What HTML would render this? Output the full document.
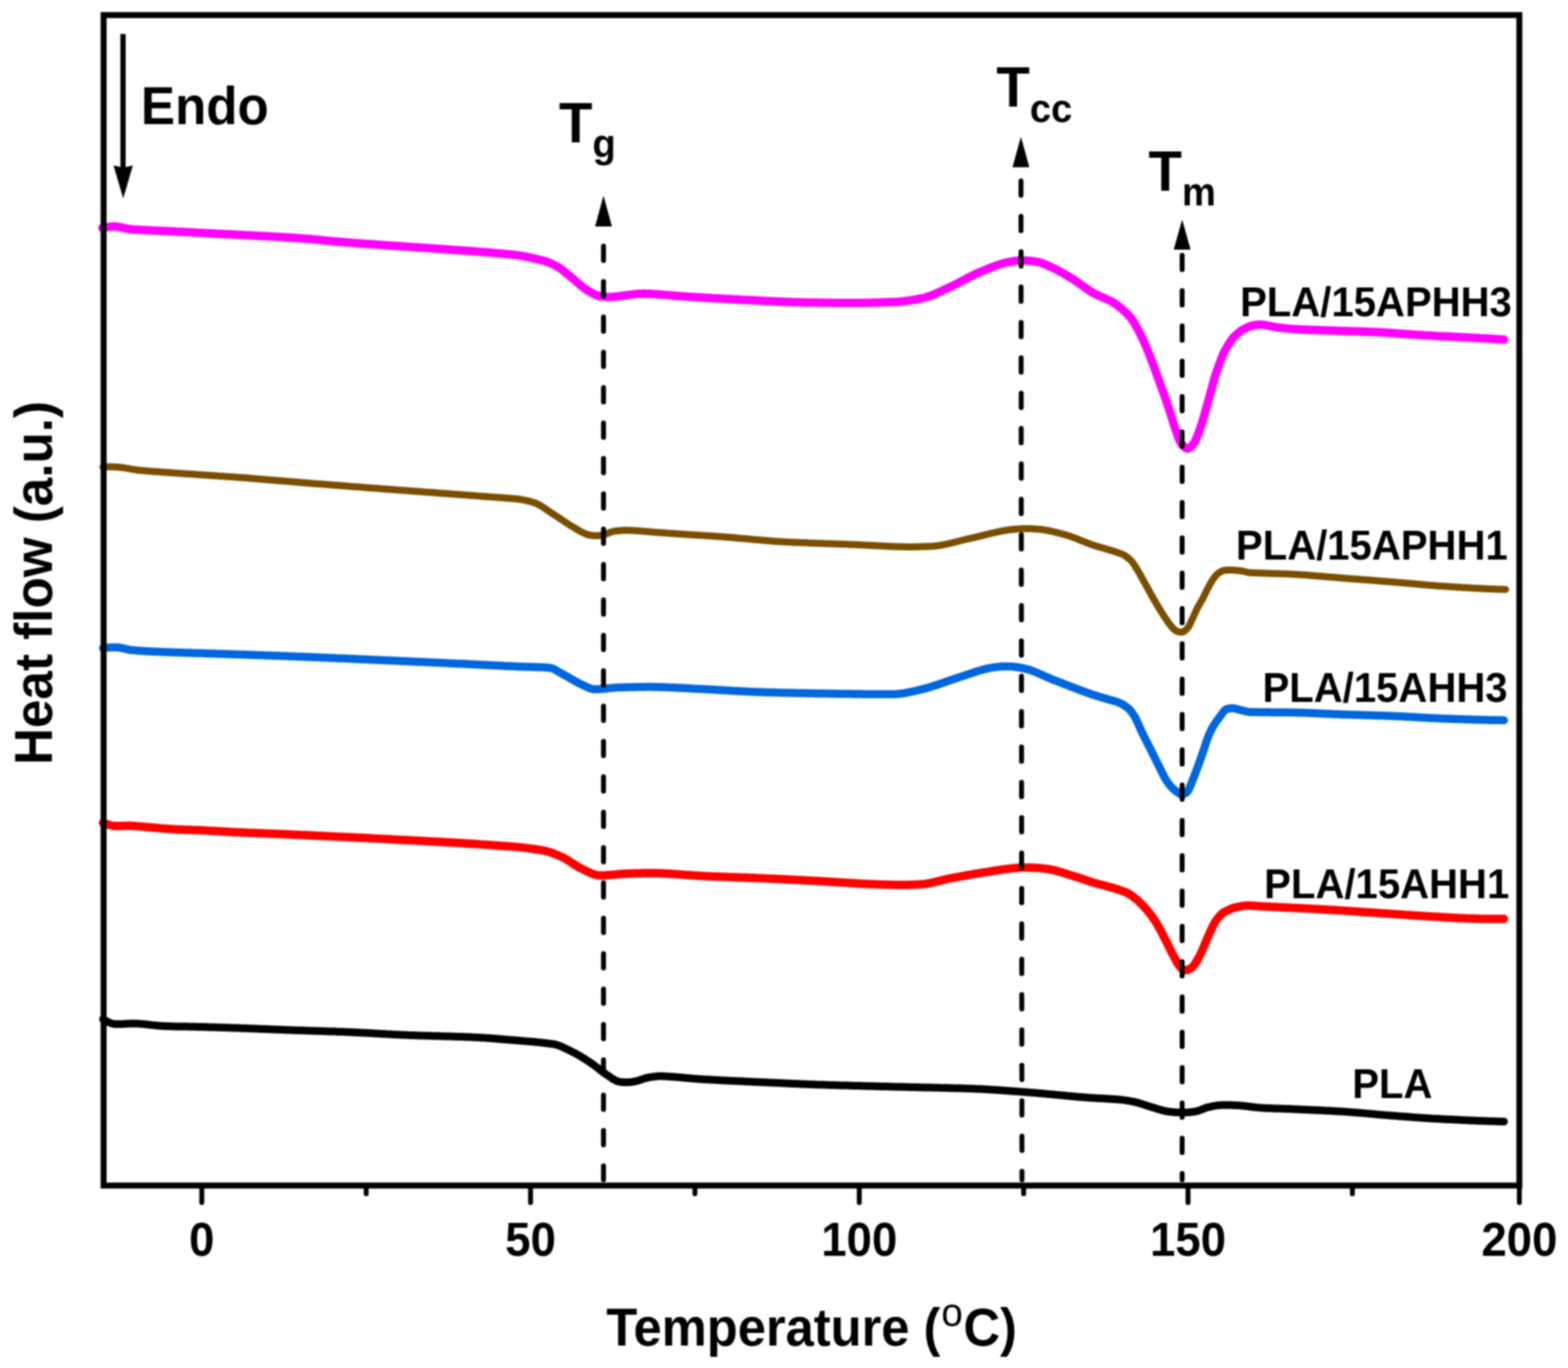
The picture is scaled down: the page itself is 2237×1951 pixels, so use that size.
<!DOCTYPE html>
<html><head><meta charset="utf-8"><title>DSC thermograms</title>
<style>html,body{margin:0;padding:0;background:#fff;}body{width:2237px;height:1951px;overflow:hidden;}svg{display:block;filter:blur(1.1px);}</style>
</head><body>
<svg width="2237" height="1951" viewBox="0 0 2237 1951">
<path d="M146.0,325.0L148.0,324.6L150.0,324.3L152.0,324.0L154.0,323.6L156.0,323.4L158.0,323.2L160.0,323.0L162.0,323.0L164.0,323.0L166.0,323.2L168.0,323.4L170.0,323.8L172.0,324.1L174.0,324.5L176.0,324.9L178.0,325.4L180.0,325.8L182.0,326.2L184.0,326.5L186.0,326.8L188.0,327.1L190.0,327.2L192.0,327.4L194.0,327.5L196.0,327.6L198.0,327.7L200.0,327.8L202.0,327.9L204.0,328.0L206.0,328.1L208.0,328.2L210.0,328.3L212.0,328.4L214.0,328.5L216.0,328.6L218.0,328.7L220.0,328.8L222.0,328.9L224.0,329.0L226.0,329.1L228.0,329.2L230.0,329.3L232.0,329.3L234.0,329.4L236.0,329.5L238.0,329.6L240.0,329.7L242.0,329.8L244.0,329.9L246.0,330.0L248.0,330.1L250.0,330.2L252.0,330.3L254.0,330.4L256.0,330.5L258.0,330.6L260.0,330.7L262.0,330.8L264.0,330.9L266.0,331.0L268.0,331.1L270.0,331.2L272.0,331.3L274.0,331.4L276.0,331.5L278.0,331.7L280.0,331.8L282.0,331.9L284.0,332.0L286.0,332.1L288.0,332.2L290.0,332.3L292.0,332.4L294.0,332.5L296.0,332.6L298.0,332.7L300.0,332.8L302.0,332.9L304.0,333.0L306.0,333.1L308.0,333.2L310.0,333.3L312.0,333.4L314.0,333.5L316.0,333.6L318.0,333.7L320.0,333.8L322.0,333.9L324.0,334.0L326.0,334.1L328.0,334.2L330.0,334.3L332.0,334.4L334.0,334.5L336.0,334.6L338.0,334.7L340.0,334.8L342.0,334.9L344.0,335.0L346.0,335.1L348.0,335.2L350.0,335.3L352.0,335.4L354.0,335.5L356.0,335.6L358.0,335.7L360.0,335.8L362.0,335.9L364.0,336.0L366.0,336.1L368.0,336.2L370.0,336.3L372.0,336.4L374.0,336.5L376.0,336.6L378.0,336.7L380.0,336.8L382.0,337.0L384.0,337.1L386.0,337.2L388.0,337.3L390.0,337.4L392.0,337.5L394.0,337.6L396.0,337.7L398.0,337.9L400.0,338.0L402.0,338.1L404.0,338.2L406.0,338.3L408.0,338.5L410.0,338.6L412.0,338.7L414.0,338.8L416.0,339.0L418.0,339.1L420.0,339.2L422.0,339.4L424.0,339.5L426.0,339.6L428.0,339.8L430.0,339.9L432.0,340.1L434.0,340.2L436.0,340.4L438.0,340.5L440.0,340.7L442.0,340.8L444.0,341.0L446.0,341.2L448.0,341.4L450.0,341.6L452.0,341.8L454.0,342.0L456.0,342.2L458.0,342.4L460.0,342.6L462.0,342.8L464.0,343.0L466.0,343.2L468.0,343.4L470.0,343.6L472.0,343.8L474.0,344.0L476.0,344.2L478.0,344.3L480.0,344.5L482.0,344.7L484.0,344.8L486.0,345.0L488.0,345.1L490.0,345.3L492.0,345.5L494.0,345.6L496.0,345.8L498.0,345.9L500.0,346.1L502.0,346.2L504.0,346.4L506.0,346.6L508.0,346.7L510.0,346.9L512.0,347.0L514.0,347.2L516.0,347.3L518.0,347.4L520.0,347.6L522.0,347.7L524.0,347.9L526.0,348.0L528.0,348.2L530.0,348.3L532.0,348.5L534.0,348.6L536.0,348.7L538.0,348.9L540.0,349.0L542.0,349.2L544.0,349.3L546.0,349.4L548.0,349.6L550.0,349.7L552.0,349.9L554.0,350.0L556.0,350.1L558.0,350.3L560.0,350.4L562.0,350.5L564.0,350.7L566.0,350.8L568.0,350.9L570.0,351.1L572.0,351.2L574.0,351.3L576.0,351.5L578.0,351.6L580.0,351.7L582.0,351.9L584.0,352.0L586.0,352.1L588.0,352.3L590.0,352.4L592.0,352.5L594.0,352.7L596.0,352.8L598.0,352.9L600.0,353.1L602.0,353.2L604.0,353.3L606.0,353.5L608.0,353.6L610.0,353.7L612.0,353.9L614.0,354.0L616.0,354.1L618.0,354.3L620.0,354.4L622.0,354.6L624.0,354.7L626.0,354.8L628.0,355.0L630.0,355.1L632.0,355.2L634.0,355.4L636.0,355.5L638.0,355.7L640.0,355.8L642.0,355.9L644.0,356.1L646.0,356.2L648.0,356.4L650.0,356.5L652.0,356.6L654.0,356.8L656.0,356.9L658.0,357.1L660.0,357.2L662.0,357.4L664.0,357.5L666.0,357.6L668.0,357.8L670.0,357.9L672.0,358.1L674.0,358.2L676.0,358.4L678.0,358.5L680.0,358.7L682.0,358.9L684.0,359.0L686.0,359.2L688.0,359.3L690.0,359.5L692.0,359.6L694.0,359.8L696.0,360.0L698.0,360.1L700.0,360.3L702.0,360.5L704.0,360.7L706.0,360.8L708.0,361.0L710.0,361.2L712.0,361.4L714.0,361.6L716.0,361.7L718.0,361.9L720.0,362.1L722.0,362.3L724.0,362.5L726.0,362.7L728.0,362.9L730.0,363.1L732.0,363.3L734.0,363.5L736.0,363.8L738.0,364.0L740.0,364.3L742.0,364.6L744.0,364.9L746.0,365.2L748.0,365.6L750.0,366.0L752.0,366.4L754.0,366.8L756.0,367.2L758.0,367.6L760.0,368.1L762.0,368.5L764.0,369.0L766.0,369.5L768.0,370.0L770.0,370.5L772.0,371.0L774.0,371.4L776.0,372.0L778.0,372.5L780.0,373.2L782.0,373.9L784.0,374.7L786.0,375.6L788.0,376.5L790.0,377.5L792.0,378.5L794.0,379.6L796.0,380.7L798.0,381.9L800.0,383.2L802.0,384.7L804.0,386.2L806.0,387.9L808.0,389.6L810.0,391.3L812.0,393.0L814.0,394.7L816.0,396.3L818.0,397.9L820.0,399.6L822.0,401.3L824.0,403.1L826.0,404.8L828.0,406.5L830.0,408.2L832.0,409.8L834.0,411.3L836.0,412.7L838.0,414.0L840.0,415.2L842.0,416.4L844.0,417.5L846.0,418.6L848.0,419.6L850.0,420.5L852.0,421.3L854.0,421.9L856.0,422.3L858.0,422.6L860.0,422.9L862.0,423.1L864.0,423.3L866.0,423.5L868.0,423.6L870.0,423.6L872.0,423.5L874.0,423.4L876.0,423.2L878.0,423.0L880.0,422.8L882.0,422.6L884.0,422.3L886.0,422.0L888.0,421.8L890.0,421.5L892.0,421.2L894.0,420.9L896.0,420.6L898.0,420.4L900.0,420.1L902.0,419.9L904.0,419.6L906.0,419.4L908.0,419.3L910.0,419.1L912.0,419.0L914.0,418.9L916.0,418.8L918.0,418.8L920.0,418.8L922.0,418.9L924.0,418.9L926.0,419.0L928.0,419.1L930.0,419.2L932.0,419.3L934.0,419.4L936.0,419.5L938.0,419.7L940.0,419.8L942.0,420.0L944.0,420.1L946.0,420.3L948.0,420.5L950.0,420.6L952.0,420.8L954.0,421.0L956.0,421.1L958.0,421.3L960.0,421.5L962.0,421.7L964.0,421.8L966.0,422.0L968.0,422.2L970.0,422.3L972.0,422.5L974.0,422.6L976.0,422.8L978.0,422.9L980.0,423.0L982.0,423.1L984.0,423.3L986.0,423.4L988.0,423.5L990.0,423.6L992.0,423.7L994.0,423.9L996.0,424.0L998.0,424.1L1000.0,424.2L1002.0,424.3L1004.0,424.4L1006.0,424.6L1008.0,424.7L1010.0,424.8L1012.0,424.9L1014.0,425.0L1016.0,425.1L1018.0,425.3L1020.0,425.4L1022.0,425.5L1024.0,425.6L1026.0,425.7L1028.0,425.8L1030.0,425.9L1032.0,426.0L1034.0,426.2L1036.0,426.3L1038.0,426.4L1040.0,426.5L1042.0,426.6L1044.0,426.7L1046.0,426.8L1048.0,426.9L1050.0,427.0L1052.0,427.1L1054.0,427.2L1056.0,427.3L1058.0,427.4L1060.0,427.5L1062.0,427.6L1064.0,427.7L1066.0,427.8L1068.0,427.9L1070.0,428.0L1072.0,428.1L1074.0,428.2L1076.0,428.3L1078.0,428.4L1080.0,428.5L1082.0,428.6L1084.0,428.7L1086.0,428.9L1088.0,429.0L1090.0,429.1L1092.0,429.2L1094.0,429.3L1096.0,429.4L1098.0,429.5L1100.0,429.6L1102.0,429.6L1104.0,429.7L1106.0,429.8L1108.0,429.9L1110.0,430.0L1112.0,430.1L1114.0,430.2L1116.0,430.3L1118.0,430.4L1120.0,430.5L1122.0,430.5L1124.0,430.6L1126.0,430.7L1128.0,430.8L1130.0,430.8L1132.0,430.9L1134.0,431.0L1136.0,431.0L1138.0,431.1L1140.0,431.1L1142.0,431.2L1144.0,431.2L1146.0,431.3L1148.0,431.3L1150.0,431.4L1152.0,431.4L1154.0,431.4L1156.0,431.5L1158.0,431.5L1160.0,431.5L1162.0,431.6L1164.0,431.6L1166.0,431.6L1168.0,431.7L1170.0,431.7L1172.0,431.7L1174.0,431.7L1176.0,431.8L1178.0,431.8L1180.0,431.8L1182.0,431.8L1184.0,431.8L1186.0,431.8L1188.0,431.9L1190.0,431.9L1192.0,431.9L1194.0,431.9L1196.0,431.9L1198.0,431.9L1200.0,431.9L1202.0,431.9L1204.0,432.0L1206.0,432.0L1208.0,432.0L1210.0,432.0L1212.0,432.0L1214.0,432.0L1216.0,432.0L1218.0,432.0L1220.0,432.0L1222.0,432.0L1224.0,432.0L1226.0,432.0L1228.0,432.0L1230.0,431.9L1232.0,431.9L1234.0,431.9L1236.0,431.8L1238.0,431.8L1240.0,431.8L1242.0,431.7L1244.0,431.7L1246.0,431.6L1248.0,431.6L1250.0,431.5L1252.0,431.4L1254.0,431.4L1256.0,431.3L1258.0,431.2L1260.0,431.2L1262.0,431.1L1264.0,431.0L1266.0,431.0L1268.0,430.9L1270.0,430.8L1272.0,430.8L1274.0,430.7L1276.0,430.6L1278.0,430.6L1280.0,430.4L1282.0,430.3L1284.0,430.1L1286.0,429.9L1288.0,429.7L1290.0,429.5L1292.0,429.3L1294.0,429.0L1296.0,428.7L1298.0,428.4L1300.0,428.1L1302.0,427.8L1304.0,427.4L1306.0,427.1L1308.0,426.7L1310.0,426.4L1312.0,426.0L1314.0,425.6L1316.0,425.2L1318.0,424.7L1320.0,424.2L1322.0,423.6L1324.0,423.0L1326.0,422.3L1328.0,421.6L1330.0,420.8L1332.0,420.0L1334.0,419.2L1336.0,418.3L1338.0,417.4L1340.0,416.5L1342.0,415.5L1344.0,414.6L1346.0,413.7L1348.0,412.7L1350.0,411.8L1352.0,410.8L1354.0,409.9L1356.0,409.0L1358.0,408.1L1360.0,407.1L1362.0,406.2L1364.0,405.2L1366.0,404.1L1368.0,403.1L1370.0,402.1L1372.0,401.0L1374.0,399.9L1376.0,398.9L1378.0,397.8L1380.0,396.7L1382.0,395.7L1384.0,394.7L1386.0,393.6L1388.0,392.6L1390.0,391.7L1392.0,390.7L1394.0,389.8L1396.0,388.9L1398.0,388.1L1400.0,387.2L1402.0,386.4L1404.0,385.5L1406.0,384.7L1408.0,383.9L1410.0,383.1L1412.0,382.2L1414.0,381.5L1416.0,380.7L1418.0,379.9L1420.0,379.2L1422.0,378.5L1424.0,377.8L1426.0,377.1L1428.0,376.5L1430.0,375.9L1432.0,375.4L1434.0,374.9L1436.0,374.4L1438.0,374.0L1440.0,373.6L1442.0,373.2L1444.0,372.9L1446.0,372.6L1448.0,372.3L1450.0,372.0L1452.0,371.8L1454.0,371.6L1456.0,371.5L1458.0,371.5L1460.0,371.5L1462.0,371.5L1464.0,371.6L1466.0,371.7L1468.0,371.9L1470.0,372.1L1472.0,372.3L1474.0,372.6L1476.0,372.9L1478.0,373.2L1480.0,373.5L1482.0,373.9L1484.0,374.4L1486.0,375.0L1488.0,375.8L1490.0,376.5L1492.0,377.4L1494.0,378.3L1496.0,379.2L1498.0,380.1L1500.0,381.0L1502.0,381.9L1504.0,382.9L1506.0,383.9L1508.0,384.9L1510.0,385.9L1512.0,387.0L1514.0,388.1L1516.0,389.3L1518.0,390.4L1520.0,391.6L1522.0,392.8L1524.0,394.0L1526.0,395.2L1528.0,396.4L1530.0,397.6L1532.0,398.9L1534.0,400.2L1536.0,401.6L1538.0,403.0L1540.0,404.4L1542.0,405.9L1544.0,407.3L1546.0,408.7L1548.0,410.2L1550.0,411.6L1552.0,412.9L1554.0,414.3L1556.0,415.5L1558.0,416.8L1560.0,417.9L1562.0,419.0L1564.0,420.0L1566.0,420.9L1568.0,421.9L1570.0,422.7L1572.0,423.6L1574.0,424.5L1576.0,425.3L1578.0,426.2L1580.0,427.1L1582.0,428.0L1584.0,429.0L1586.0,430.1L1588.0,431.2L1590.0,432.5L1592.0,433.8L1594.0,435.3L1596.0,436.8L1598.0,438.4L1600.0,440.0L1602.0,441.7L1604.0,443.5L1606.0,445.4L1608.0,447.4L1610.0,449.5L1612.0,451.8L1614.0,454.3L1616.0,457.0L1618.0,460.1L1620.0,463.5L1622.0,467.1L1624.0,470.9L1626.0,474.7L1628.0,478.7L1630.0,482.9L1632.0,487.3L1634.0,491.9L1636.0,496.7L1638.0,501.6L1640.0,506.5L1642.0,511.6L1644.0,516.8L1646.0,522.2L1648.0,527.7L1650.0,533.2L1652.0,538.8L1654.0,544.3L1656.0,549.8L1658.0,555.3L1660.0,560.8L1662.0,566.4L1664.0,572.0L1666.0,577.8L1668.0,583.7L1670.0,590.1L1672.0,596.6L1674.0,603.1L1676.0,609.3L1678.0,615.0L1680.0,620.5L1682.0,625.8L1684.0,630.2L1686.0,633.4L1688.0,635.8L1690.0,637.8L1692.0,639.2L1694.0,639.7L1696.0,639.3L1698.0,638.0L1700.0,636.2L1702.0,634.1L1704.0,631.1L1706.0,627.1L1708.0,622.3L1710.0,617.1L1712.0,611.6L1714.0,605.8L1716.0,599.4L1718.0,592.5L1720.0,585.4L1722.0,578.2L1724.0,571.2L1726.0,563.8L1728.0,556.3L1730.0,548.8L1732.0,541.7L1734.0,535.2L1736.0,529.2L1738.0,523.3L1740.0,517.7L1742.0,512.4L1744.0,507.5L1746.0,503.1L1748.0,499.3L1750.0,495.7L1752.0,492.3L1754.0,489.1L1756.0,486.1L1758.0,483.4L1760.0,481.1L1762.0,479.1L1764.0,477.2L1766.0,475.4L1768.0,473.7L1770.0,472.1L1772.0,470.8L1774.0,469.6L1776.0,468.7L1778.0,467.7L1780.0,466.7L1782.0,465.9L1784.0,465.1L1786.0,464.5L1788.0,464.1L1790.0,463.7L1792.0,463.4L1794.0,463.1L1796.0,462.9L1798.0,462.8L1800.0,462.9L1802.0,463.1L1804.0,463.4L1806.0,463.8L1808.0,464.2L1810.0,464.6L1812.0,465.0L1814.0,465.4L1816.0,465.8L1818.0,466.2L1820.0,466.5L1822.0,466.7L1824.0,467.0L1826.0,467.2L1828.0,467.5L1830.0,467.7L1832.0,467.9L1834.0,468.1L1836.0,468.4L1838.0,468.6L1840.0,468.8L1842.0,468.9L1844.0,469.1L1846.0,469.3L1848.0,469.4L1850.0,469.5L1852.0,469.6L1854.0,469.7L1856.0,469.8L1858.0,469.9L1860.0,470.0L1862.0,470.1L1864.0,470.1L1866.0,470.2L1868.0,470.3L1870.0,470.4L1872.0,470.5L1874.0,470.5L1876.0,470.6L1878.0,470.7L1880.0,470.8L1882.0,470.8L1884.0,470.9L1886.0,471.0L1888.0,471.1L1890.0,471.1L1892.0,471.2L1894.0,471.3L1896.0,471.3L1898.0,471.4L1900.0,471.5L1902.0,471.5L1904.0,471.6L1906.0,471.7L1908.0,471.7L1910.0,471.8L1912.0,471.9L1914.0,471.9L1916.0,472.0L1918.0,472.0L1920.0,472.1L1922.0,472.2L1924.0,472.2L1926.0,472.3L1928.0,472.3L1930.0,472.4L1932.0,472.5L1934.0,472.5L1936.0,472.6L1938.0,472.6L1940.0,472.7L1942.0,472.8L1944.0,472.8L1946.0,472.9L1948.0,473.0L1950.0,473.1L1952.0,473.1L1954.0,473.2L1956.0,473.3L1958.0,473.4L1960.0,473.5L1962.0,473.6L1964.0,473.6L1966.0,473.7L1968.0,473.8L1970.0,474.0L1972.0,474.1L1974.0,474.2L1976.0,474.3L1978.0,474.4L1980.0,474.6L1982.0,474.7L1984.0,474.8L1986.0,475.0L1988.0,475.1L1990.0,475.2L1992.0,475.4L1994.0,475.5L1996.0,475.7L1998.0,475.8L2000.0,476.0L2002.0,476.1L2004.0,476.3L2006.0,476.4L2008.0,476.5L2010.0,476.7L2012.0,476.8L2014.0,477.0L2016.0,477.1L2018.0,477.3L2020.0,477.4L2022.0,477.5L2024.0,477.7L2026.0,477.8L2028.0,477.9L2030.0,478.1L2032.0,478.2L2034.0,478.3L2036.0,478.4L2038.0,478.5L2040.0,478.6L2042.0,478.7L2044.0,478.8L2046.0,479.0L2048.0,479.1L2050.0,479.2L2052.0,479.3L2054.0,479.4L2056.0,479.5L2058.0,479.6L2060.0,479.7L2062.0,479.8L2064.0,479.8L2066.0,479.9L2068.0,480.0L2070.0,480.1L2072.0,480.2L2074.0,480.3L2076.0,480.4L2078.0,480.5L2080.0,480.6L2082.0,480.7L2084.0,480.8L2086.0,480.9L2088.0,481.0L2090.0,481.1L2092.0,481.2L2094.0,481.3L2096.0,481.4L2098.0,481.5L2100.0,481.6L2102.0,481.7L2104.0,481.8L2106.0,481.9L2108.0,482.0L2110.0,482.1L2112.0,482.3L2114.0,482.4L2116.0,482.5L2118.0,482.6L2120.0,482.7L2122.0,482.8L2124.0,483.0L2126.0,483.1L2128.0,483.2L2130.0,483.3L2132.0,483.4L2134.0,483.6L2136.0,483.7L2138.0,483.8L2140.0,483.9L2142.0,484.1L2144.0,484.2L2145.8,484.3" fill="none" stroke="#ff00ff" stroke-width="12" stroke-linecap="round" stroke-linejoin="round"/>
<path d="M147.0,665.8L149.0,665.7L151.0,665.7L153.0,665.7L155.0,665.7L157.0,665.7L159.0,665.8L161.0,665.8L163.0,665.9L165.0,666.0L167.0,666.1L169.0,666.3L171.0,666.5L173.0,666.7L175.0,667.0L177.0,667.2L179.0,667.6L181.0,667.9L183.0,668.2L185.0,668.6L187.0,668.9L189.0,669.3L191.0,669.6L193.0,669.9L195.0,670.2L197.0,670.5L199.0,670.7L201.0,670.9L203.0,671.0L205.0,671.2L207.0,671.4L209.0,671.6L211.0,671.7L213.0,671.9L215.0,672.1L217.0,672.2L219.0,672.4L221.0,672.5L223.0,672.7L225.0,672.8L227.0,673.0L229.0,673.1L231.0,673.2L233.0,673.4L235.0,673.5L237.0,673.7L239.0,673.8L241.0,674.0L243.0,674.1L245.0,674.3L247.0,674.4L249.0,674.5L251.0,674.7L253.0,674.8L255.0,675.0L257.0,675.1L259.0,675.2L261.0,675.4L263.0,675.5L265.0,675.7L267.0,675.8L269.0,675.9L271.0,676.1L273.0,676.2L275.0,676.3L277.0,676.5L279.0,676.6L281.0,676.8L283.0,676.9L285.0,677.0L287.0,677.2L289.0,677.3L291.0,677.4L293.0,677.6L295.0,677.7L297.0,677.8L299.0,678.0L301.0,678.1L303.0,678.2L305.0,678.4L307.0,678.5L309.0,678.6L311.0,678.8L313.0,678.9L315.0,679.0L317.0,679.2L319.0,679.3L321.0,679.5L323.0,679.6L325.0,679.7L327.0,679.9L329.0,680.0L331.0,680.1L333.0,680.3L335.0,680.4L337.0,680.6L339.0,680.7L341.0,680.9L343.0,681.0L345.0,681.2L347.0,681.3L349.0,681.5L351.0,681.6L353.0,681.8L355.0,682.0L357.0,682.1L359.0,682.3L361.0,682.4L363.0,682.6L365.0,682.8L367.0,682.9L369.0,683.1L371.0,683.3L373.0,683.4L375.0,683.6L377.0,683.8L379.0,683.9L381.0,684.1L383.0,684.3L385.0,684.4L387.0,684.6L389.0,684.8L391.0,684.9L393.0,685.1L395.0,685.3L397.0,685.4L399.0,685.6L401.0,685.8L403.0,686.0L405.0,686.1L407.0,686.3L409.0,686.5L411.0,686.6L413.0,686.8L415.0,687.0L417.0,687.1L419.0,687.3L421.0,687.5L423.0,687.6L425.0,687.8L427.0,688.0L429.0,688.1L431.0,688.3L433.0,688.4L435.0,688.6L437.0,688.8L439.0,688.9L441.0,689.1L443.0,689.2L445.0,689.4L447.0,689.5L449.0,689.7L451.0,689.9L453.0,690.0L455.0,690.2L457.0,690.3L459.0,690.5L461.0,690.6L463.0,690.8L465.0,691.0L467.0,691.1L469.0,691.3L471.0,691.4L473.0,691.6L475.0,691.7L477.0,691.9L479.0,692.0L481.0,692.2L483.0,692.3L485.0,692.5L487.0,692.7L489.0,692.8L491.0,693.0L493.0,693.1L495.0,693.3L497.0,693.4L499.0,693.6L501.0,693.7L503.0,693.9L505.0,694.0L507.0,694.2L509.0,694.3L511.0,694.5L513.0,694.6L515.0,694.8L517.0,694.9L519.0,695.1L521.0,695.2L523.0,695.4L525.0,695.5L527.0,695.7L529.0,695.9L531.0,696.0L533.0,696.2L535.0,696.3L537.0,696.5L539.0,696.6L541.0,696.8L543.0,696.9L545.0,697.1L547.0,697.2L549.0,697.4L551.0,697.5L553.0,697.7L555.0,697.8L557.0,698.0L559.0,698.1L561.0,698.3L563.0,698.4L565.0,698.6L567.0,698.7L569.0,698.9L571.0,699.0L573.0,699.2L575.0,699.3L577.0,699.5L579.0,699.6L581.0,699.8L583.0,699.9L585.0,700.1L587.0,700.2L589.0,700.4L591.0,700.5L593.0,700.7L595.0,700.8L597.0,701.0L599.0,701.1L601.0,701.3L603.0,701.4L605.0,701.6L607.0,701.7L609.0,701.9L611.0,702.0L613.0,702.2L615.0,702.3L617.0,702.5L619.0,702.6L621.0,702.8L623.0,702.9L625.0,703.1L627.0,703.2L629.0,703.4L631.0,703.5L633.0,703.7L635.0,703.8L637.0,704.0L639.0,704.1L641.0,704.3L643.0,704.4L645.0,704.6L647.0,704.7L649.0,704.9L651.0,705.0L653.0,705.2L655.0,705.3L657.0,705.5L659.0,705.6L661.0,705.8L663.0,705.9L665.0,706.1L667.0,706.2L669.0,706.4L671.0,706.5L673.0,706.7L675.0,706.8L677.0,707.0L679.0,707.1L681.0,707.3L683.0,707.4L685.0,707.6L687.0,707.7L689.0,707.9L691.0,708.0L693.0,708.2L695.0,708.3L697.0,708.4L699.0,708.6L701.0,708.7L703.0,708.9L705.0,709.0L707.0,709.2L709.0,709.3L711.0,709.4L713.0,709.6L715.0,709.7L717.0,709.9L719.0,710.0L721.0,710.2L723.0,710.4L725.0,710.5L727.0,710.7L729.0,710.8L731.0,711.0L733.0,711.2L735.0,711.3L737.0,711.5L739.0,711.8L741.0,712.0L743.0,712.4L745.0,712.7L747.0,713.1L749.0,713.5L751.0,713.9L753.0,714.4L755.0,714.9L757.0,715.4L759.0,716.0L761.0,716.6L763.0,717.2L765.0,718.0L767.0,718.9L769.0,720.0L771.0,721.1L773.0,722.3L775.0,723.6L777.0,724.9L779.0,726.3L781.0,727.7L783.0,729.0L785.0,730.4L787.0,731.7L789.0,733.0L791.0,734.3L793.0,735.6L795.0,736.9L797.0,738.2L799.0,739.6L801.0,741.0L803.0,742.3L805.0,743.7L807.0,745.0L809.0,746.3L811.0,747.6L813.0,748.9L815.0,750.1L817.0,751.3L819.0,752.5L821.0,753.7L823.0,754.9L825.0,756.1L827.0,757.2L829.0,758.3L831.0,759.4L833.0,760.4L835.0,761.2L837.0,762.0L839.0,762.6L841.0,763.0L843.0,763.4L845.0,763.7L847.0,763.8L849.0,763.9L851.0,763.9L853.0,763.9L855.0,763.7L857.0,763.5L859.0,763.2L861.0,762.7L863.0,762.1L865.0,761.4L867.0,760.6L869.0,759.7L871.0,759.0L873.0,758.3L875.0,757.9L877.0,757.6L879.0,757.3L881.0,757.1L883.0,756.9L885.0,756.7L887.0,756.5L889.0,756.4L891.0,756.3L893.0,756.2L895.0,756.2L897.0,756.3L899.0,756.4L901.0,756.5L903.0,756.6L905.0,756.7L907.0,756.9L909.0,757.0L911.0,757.1L913.0,757.3L915.0,757.4L917.0,757.6L919.0,757.7L921.0,757.9L923.0,758.1L925.0,758.2L927.0,758.4L929.0,758.6L931.0,758.7L933.0,758.9L935.0,759.0L937.0,759.2L939.0,759.4L941.0,759.5L943.0,759.7L945.0,759.8L947.0,760.0L949.0,760.1L951.0,760.3L953.0,760.4L955.0,760.6L957.0,760.7L959.0,760.8L961.0,761.0L963.0,761.1L965.0,761.2L967.0,761.4L969.0,761.5L971.0,761.6L973.0,761.8L975.0,761.9L977.0,762.0L979.0,762.2L981.0,762.3L983.0,762.4L985.0,762.5L987.0,762.7L989.0,762.8L991.0,762.9L993.0,763.0L995.0,763.2L997.0,763.3L999.0,763.4L1001.0,763.6L1003.0,763.7L1005.0,763.8L1007.0,763.9L1009.0,764.1L1011.0,764.2L1013.0,764.3L1015.0,764.5L1017.0,764.6L1019.0,764.7L1021.0,764.9L1023.0,765.0L1025.0,765.2L1027.0,765.3L1029.0,765.4L1031.0,765.6L1033.0,765.7L1035.0,765.9L1037.0,766.0L1039.0,766.2L1041.0,766.3L1043.0,766.5L1045.0,766.7L1047.0,766.8L1049.0,767.0L1051.0,767.2L1053.0,767.4L1055.0,767.5L1057.0,767.7L1059.0,767.9L1061.0,768.1L1063.0,768.3L1065.0,768.5L1067.0,768.6L1069.0,768.8L1071.0,769.0L1073.0,769.2L1075.0,769.4L1077.0,769.6L1079.0,769.7L1081.0,769.9L1083.0,770.1L1085.0,770.3L1087.0,770.5L1089.0,770.6L1091.0,770.8L1093.0,771.0L1095.0,771.1L1097.0,771.3L1099.0,771.5L1101.0,771.6L1103.0,771.8L1105.0,771.9L1107.0,772.0L1109.0,772.2L1111.0,772.3L1113.0,772.4L1115.0,772.5L1117.0,772.7L1119.0,772.8L1121.0,772.9L1123.0,773.0L1125.0,773.1L1127.0,773.2L1129.0,773.3L1131.0,773.4L1133.0,773.5L1135.0,773.5L1137.0,773.6L1139.0,773.7L1141.0,773.8L1143.0,773.9L1145.0,774.0L1147.0,774.1L1149.0,774.1L1151.0,774.2L1153.0,774.3L1155.0,774.4L1157.0,774.4L1159.0,774.5L1161.0,774.6L1163.0,774.7L1165.0,774.7L1167.0,774.8L1169.0,774.9L1171.0,774.9L1173.0,775.0L1175.0,775.1L1177.0,775.2L1179.0,775.2L1181.0,775.3L1183.0,775.4L1185.0,775.4L1187.0,775.5L1189.0,775.6L1191.0,775.7L1193.0,775.7L1195.0,775.8L1197.0,775.9L1199.0,775.9L1201.0,776.0L1203.0,776.1L1205.0,776.2L1207.0,776.3L1209.0,776.3L1211.0,776.4L1213.0,776.5L1215.0,776.6L1217.0,776.7L1219.0,776.8L1221.0,776.8L1223.0,776.9L1225.0,777.0L1227.0,777.1L1229.0,777.2L1231.0,777.3L1233.0,777.4L1235.0,777.5L1237.0,777.6L1239.0,777.7L1241.0,777.8L1243.0,777.9L1245.0,778.0L1247.0,778.1L1249.0,778.2L1251.0,778.3L1253.0,778.4L1255.0,778.5L1257.0,778.6L1259.0,778.7L1261.0,778.8L1263.0,778.9L1265.0,779.0L1267.0,779.1L1269.0,779.2L1271.0,779.3L1273.0,779.3L1275.0,779.4L1277.0,779.5L1279.0,779.6L1281.0,779.6L1283.0,779.7L1285.0,779.7L1287.0,779.8L1289.0,779.8L1291.0,779.8L1293.0,779.9L1295.0,779.9L1297.0,779.9L1299.0,779.9L1301.0,779.9L1303.0,779.9L1305.0,779.8L1307.0,779.8L1309.0,779.8L1311.0,779.7L1313.0,779.7L1315.0,779.6L1317.0,779.6L1319.0,779.5L1321.0,779.4L1323.0,779.3L1325.0,779.3L1327.0,779.2L1329.0,779.1L1331.0,778.9L1333.0,778.8L1335.0,778.6L1337.0,778.4L1339.0,778.1L1341.0,777.8L1343.0,777.5L1345.0,777.1L1347.0,776.7L1349.0,776.3L1351.0,775.9L1353.0,775.4L1355.0,775.0L1357.0,774.5L1359.0,774.0L1361.0,773.5L1363.0,773.0L1365.0,772.5L1367.0,772.0L1369.0,771.5L1371.0,771.0L1373.0,770.5L1375.0,770.0L1377.0,769.5L1379.0,769.0L1381.0,768.5L1383.0,768.1L1385.0,767.7L1387.0,767.2L1389.0,766.8L1391.0,766.3L1393.0,765.8L1395.0,765.4L1397.0,764.9L1399.0,764.4L1401.0,763.9L1403.0,763.4L1405.0,762.9L1407.0,762.4L1409.0,761.9L1411.0,761.4L1413.0,760.9L1415.0,760.4L1417.0,760.0L1419.0,759.5L1421.0,759.1L1423.0,758.6L1425.0,758.2L1427.0,757.8L1429.0,757.4L1431.0,757.0L1433.0,756.7L1435.0,756.4L1437.0,756.0L1439.0,755.8L1441.0,755.5L1443.0,755.3L1445.0,755.0L1447.0,754.8L1449.0,754.7L1451.0,754.5L1453.0,754.4L1455.0,754.3L1457.0,754.2L1459.0,754.1L1461.0,754.1L1463.0,754.1L1465.0,754.0L1467.0,754.1L1469.0,754.1L1471.0,754.1L1473.0,754.2L1475.0,754.3L1477.0,754.4L1479.0,754.5L1481.0,754.7L1483.0,754.8L1485.0,755.1L1487.0,755.3L1489.0,755.6L1491.0,755.9L1493.0,756.3L1495.0,756.6L1497.0,757.0L1499.0,757.5L1501.0,757.9L1503.0,758.4L1505.0,758.8L1507.0,759.3L1509.0,759.8L1511.0,760.4L1513.0,760.9L1515.0,761.4L1517.0,762.0L1519.0,762.5L1521.0,763.1L1523.0,763.7L1525.0,764.3L1527.0,765.0L1529.0,765.7L1531.0,766.4L1533.0,767.1L1535.0,767.9L1537.0,768.7L1539.0,769.5L1541.0,770.3L1543.0,771.1L1545.0,771.9L1547.0,772.7L1549.0,773.5L1551.0,774.3L1553.0,775.0L1555.0,775.8L1557.0,776.5L1559.0,777.2L1561.0,777.8L1563.0,778.5L1565.0,779.1L1567.0,779.7L1569.0,780.3L1571.0,780.9L1573.0,781.4L1575.0,782.0L1577.0,782.6L1579.0,783.2L1581.0,783.8L1583.0,784.4L1585.0,785.0L1587.0,785.6L1589.0,786.2L1591.0,786.9L1593.0,787.5L1595.0,788.2L1597.0,788.9L1599.0,789.7L1601.0,790.4L1603.0,791.4L1605.0,792.5L1607.0,793.9L1609.0,795.4L1611.0,797.1L1613.0,798.9L1615.0,801.1L1617.0,803.8L1619.0,806.8L1621.0,810.0L1623.0,813.2L1625.0,816.6L1627.0,820.1L1629.0,823.8L1631.0,827.5L1633.0,831.1L1635.0,834.7L1637.0,838.3L1639.0,842.0L1641.0,845.6L1643.0,849.2L1645.0,852.7L1647.0,856.2L1649.0,859.6L1651.0,863.1L1653.0,866.4L1655.0,869.7L1657.0,872.9L1659.0,876.1L1661.0,879.3L1663.0,882.3L1665.0,885.2L1667.0,888.0L1669.0,890.6L1671.0,893.2L1673.0,895.6L1675.0,897.6L1677.0,899.1L1679.0,900.2L1681.0,900.9L1683.0,901.4L1685.0,901.6L1687.0,901.3L1689.0,900.5L1691.0,899.1L1693.0,897.2L1695.0,895.0L1697.0,891.6L1699.0,887.2L1701.0,882.9L1703.0,878.5L1705.0,874.1L1707.0,869.7L1709.0,865.8L1711.0,862.2L1713.0,858.8L1715.0,855.3L1717.0,851.6L1719.0,847.6L1721.0,843.4L1723.0,839.4L1725.0,835.7L1727.0,832.0L1729.0,828.6L1731.0,825.6L1733.0,822.8L1735.0,820.3L1737.0,818.4L1739.0,817.0L1741.0,815.7L1743.0,814.6L1745.0,813.8L1747.0,813.5L1749.0,813.3L1751.0,813.1L1753.0,813.0L1755.0,813.0L1757.0,813.0L1759.0,813.1L1761.0,813.2L1763.0,813.4L1765.0,813.5L1767.0,813.7L1769.0,813.9L1771.0,814.1L1773.0,814.5L1775.0,815.0L1777.0,815.5L1779.0,816.0L1781.0,816.4L1783.0,816.7L1785.0,816.8L1787.0,816.9L1789.0,817.0L1791.0,817.1L1793.0,817.2L1795.0,817.2L1797.0,817.3L1799.0,817.3L1801.0,817.4L1803.0,817.5L1805.0,817.5L1807.0,817.6L1809.0,817.7L1811.0,817.7L1813.0,817.8L1815.0,817.9L1817.0,817.9L1819.0,818.0L1821.0,818.1L1823.0,818.1L1825.0,818.2L1827.0,818.3L1829.0,818.3L1831.0,818.4L1833.0,818.5L1835.0,818.6L1837.0,818.6L1839.0,818.7L1841.0,818.8L1843.0,818.9L1845.0,819.0L1847.0,819.1L1849.0,819.2L1851.0,819.3L1853.0,819.5L1855.0,819.6L1857.0,819.7L1859.0,819.9L1861.0,820.0L1863.0,820.1L1865.0,820.3L1867.0,820.4L1869.0,820.6L1871.0,820.8L1873.0,820.9L1875.0,821.1L1877.0,821.2L1879.0,821.4L1881.0,821.6L1883.0,821.7L1885.0,821.9L1887.0,822.1L1889.0,822.3L1891.0,822.4L1893.0,822.6L1895.0,822.8L1897.0,822.9L1899.0,823.1L1901.0,823.3L1903.0,823.5L1905.0,823.6L1907.0,823.8L1909.0,824.0L1911.0,824.1L1913.0,824.3L1915.0,824.4L1917.0,824.6L1919.0,824.7L1921.0,824.9L1923.0,825.0L1925.0,825.2L1927.0,825.4L1929.0,825.5L1931.0,825.7L1933.0,825.8L1935.0,826.0L1937.0,826.1L1939.0,826.3L1941.0,826.4L1943.0,826.6L1945.0,826.7L1947.0,826.9L1949.0,827.0L1951.0,827.2L1953.0,827.3L1955.0,827.5L1957.0,827.6L1959.0,827.8L1961.0,828.0L1963.0,828.1L1965.0,828.3L1967.0,828.4L1969.0,828.6L1971.0,828.7L1973.0,828.9L1975.0,829.0L1977.0,829.2L1979.0,829.4L1981.0,829.5L1983.0,829.7L1985.0,829.8L1987.0,830.0L1989.0,830.2L1991.0,830.3L1993.0,830.5L1995.0,830.7L1997.0,830.8L1999.0,831.0L2001.0,831.2L2003.0,831.4L2005.0,831.5L2007.0,831.7L2009.0,831.9L2011.0,832.1L2013.0,832.3L2015.0,832.4L2017.0,832.6L2019.0,832.8L2021.0,833.0L2023.0,833.2L2025.0,833.3L2027.0,833.5L2029.0,833.7L2031.0,833.9L2033.0,834.1L2035.0,834.2L2037.0,834.4L2039.0,834.6L2041.0,834.7L2043.0,834.9L2045.0,835.1L2047.0,835.2L2049.0,835.4L2051.0,835.5L2053.0,835.7L2055.0,835.8L2057.0,835.9L2059.0,836.1L2061.0,836.2L2063.0,836.3L2065.0,836.5L2067.0,836.6L2069.0,836.7L2071.0,836.9L2073.0,837.0L2075.0,837.1L2077.0,837.2L2079.0,837.4L2081.0,837.5L2083.0,837.6L2085.0,837.7L2087.0,837.9L2089.0,838.0L2091.0,838.1L2093.0,838.2L2095.0,838.3L2097.0,838.4L2099.0,838.6L2101.0,838.7L2103.0,838.8L2105.0,838.9L2107.0,839.0L2109.0,839.1L2111.0,839.2L2113.0,839.3L2115.0,839.4L2117.0,839.5L2119.0,839.6L2121.0,839.7L2123.0,839.8L2125.0,839.9L2127.0,839.9L2129.0,840.0L2131.0,840.1L2133.0,840.2L2135.0,840.3L2137.0,840.3L2139.0,840.4L2141.0,840.5L2143.0,840.5L2145.0,840.6L2147.0,840.7L2148.0,840.7" fill="none" stroke="#7a4e00" stroke-width="10" stroke-linecap="round" stroke-linejoin="round"/>
<path d="M147.0,924.3L149.0,924.1L151.0,923.9L153.0,923.7L155.0,923.5L157.0,923.4L159.0,923.3L161.0,923.2L163.0,923.2L165.0,923.2L167.0,923.3L169.0,923.5L171.0,923.7L173.0,924.1L175.0,924.5L177.0,924.9L179.0,925.4L181.0,925.8L183.0,926.3L185.0,926.7L187.0,927.0L189.0,927.2L191.0,927.4L193.0,927.6L195.0,927.8L197.0,927.9L199.0,928.1L201.0,928.2L203.0,928.4L205.0,928.5L207.0,928.6L209.0,928.7L211.0,928.9L213.0,929.0L215.0,929.1L217.0,929.2L219.0,929.2L221.0,929.3L223.0,929.4L225.0,929.5L227.0,929.6L229.0,929.7L231.0,929.7L233.0,929.8L235.0,929.9L237.0,930.0L239.0,930.1L241.0,930.1L243.0,930.2L245.0,930.3L247.0,930.4L249.0,930.4L251.0,930.5L253.0,930.6L255.0,930.6L257.0,930.7L259.0,930.8L261.0,930.8L263.0,930.9L265.0,931.0L267.0,931.0L269.0,931.1L271.0,931.1L273.0,931.2L275.0,931.3L277.0,931.3L279.0,931.4L281.0,931.4L283.0,931.5L285.0,931.6L287.0,931.6L289.0,931.7L291.0,931.7L293.0,931.8L295.0,931.9L297.0,931.9L299.0,932.0L301.0,932.1L303.0,932.1L305.0,932.2L307.0,932.2L309.0,932.3L311.0,932.4L313.0,932.4L315.0,932.5L317.0,932.6L319.0,932.6L321.0,932.7L323.0,932.8L325.0,932.8L327.0,932.9L329.0,933.0L331.0,933.0L333.0,933.1L335.0,933.2L337.0,933.2L339.0,933.3L341.0,933.4L343.0,933.4L345.0,933.5L347.0,933.6L349.0,933.6L351.0,933.7L353.0,933.8L355.0,933.8L357.0,933.9L359.0,934.0L361.0,934.0L363.0,934.1L365.0,934.2L367.0,934.2L369.0,934.3L371.0,934.4L373.0,934.5L375.0,934.5L377.0,934.6L379.0,934.7L381.0,934.7L383.0,934.8L385.0,934.9L387.0,935.0L389.0,935.0L391.0,935.1L393.0,935.2L395.0,935.2L397.0,935.3L399.0,935.4L401.0,935.5L403.0,935.5L405.0,935.6L407.0,935.7L409.0,935.8L411.0,935.8L413.0,935.9L415.0,936.0L417.0,936.1L419.0,936.2L421.0,936.2L423.0,936.3L425.0,936.4L427.0,936.5L429.0,936.5L431.0,936.6L433.0,936.7L435.0,936.8L437.0,936.9L439.0,936.9L441.0,937.0L443.0,937.1L445.0,937.2L447.0,937.3L449.0,937.3L451.0,937.4L453.0,937.5L455.0,937.6L457.0,937.7L459.0,937.8L461.0,937.8L463.0,937.9L465.0,938.0L467.0,938.1L469.0,938.2L471.0,938.3L473.0,938.3L475.0,938.4L477.0,938.5L479.0,938.6L481.0,938.7L483.0,938.8L485.0,938.9L487.0,938.9L489.0,939.0L491.0,939.1L493.0,939.2L495.0,939.3L497.0,939.4L499.0,939.5L501.0,939.5L503.0,939.6L505.0,939.7L507.0,939.8L509.0,939.9L511.0,940.0L513.0,940.1L515.0,940.2L517.0,940.3L519.0,940.3L521.0,940.4L523.0,940.5L525.0,940.6L527.0,940.7L529.0,940.8L531.0,940.9L533.0,941.0L535.0,941.1L537.0,941.1L539.0,941.2L541.0,941.3L543.0,941.4L545.0,941.5L547.0,941.6L549.0,941.7L551.0,941.8L553.0,941.9L555.0,942.0L557.0,942.0L559.0,942.1L561.0,942.2L563.0,942.3L565.0,942.4L567.0,942.5L569.0,942.6L571.0,942.7L573.0,942.8L575.0,942.9L577.0,943.0L579.0,943.0L581.0,943.1L583.0,943.2L585.0,943.3L587.0,943.4L589.0,943.5L591.0,943.6L593.0,943.7L595.0,943.8L597.0,943.9L599.0,944.0L601.0,944.0L603.0,944.1L605.0,944.2L607.0,944.3L609.0,944.4L611.0,944.5L613.0,944.6L615.0,944.7L617.0,944.8L619.0,944.9L621.0,945.0L623.0,945.1L625.0,945.1L627.0,945.2L629.0,945.3L631.0,945.4L633.0,945.5L635.0,945.6L637.0,945.7L639.0,945.8L641.0,945.9L643.0,946.0L645.0,946.1L647.0,946.2L649.0,946.3L651.0,946.4L653.0,946.5L655.0,946.5L657.0,946.6L659.0,946.7L661.0,946.8L663.0,946.9L665.0,947.0L667.0,947.1L669.0,947.2L671.0,947.3L673.0,947.4L675.0,947.5L677.0,947.6L679.0,947.7L681.0,947.8L683.0,947.9L685.0,948.0L687.0,948.1L689.0,948.2L691.0,948.3L693.0,948.4L695.0,948.5L697.0,948.6L699.0,948.7L701.0,948.8L703.0,948.9L705.0,949.0L707.0,949.1L709.0,949.2L711.0,949.3L713.0,949.4L715.0,949.5L717.0,949.6L719.0,949.7L721.0,949.8L723.0,949.9L725.0,949.9L727.0,950.0L729.0,950.1L731.0,950.2L733.0,950.3L735.0,950.4L737.0,950.5L739.0,950.6L741.0,950.7L743.0,950.7L745.0,950.8L747.0,950.9L749.0,950.9L751.0,951.0L753.0,951.0L755.0,951.1L757.0,951.1L759.0,951.2L761.0,951.2L763.0,951.3L765.0,951.4L767.0,951.4L769.0,951.5L771.0,951.6L773.0,951.7L775.0,951.8L777.0,951.9L779.0,952.0L781.0,952.1L783.0,952.3L785.0,952.5L787.0,953.0L789.0,953.7L791.0,954.7L793.0,955.7L795.0,956.9L797.0,958.1L799.0,959.3L801.0,960.4L803.0,961.5L805.0,962.6L807.0,963.7L809.0,964.8L811.0,965.9L813.0,967.1L815.0,968.3L817.0,969.4L819.0,970.6L821.0,971.7L823.0,972.8L825.0,973.9L827.0,974.9L829.0,975.9L831.0,976.8L833.0,977.8L835.0,978.7L837.0,979.7L839.0,980.6L841.0,981.4L843.0,982.1L845.0,982.7L847.0,983.0L849.0,983.1L851.0,983.1L853.0,983.0L855.0,982.9L857.0,982.7L859.0,982.5L861.0,982.4L863.0,982.2L865.0,982.0L867.0,981.7L869.0,981.5L871.0,981.3L873.0,981.1L875.0,980.9L877.0,980.8L879.0,980.6L881.0,980.5L883.0,980.4L885.0,980.4L887.0,980.3L889.0,980.3L891.0,980.3L893.0,980.2L895.0,980.2L897.0,980.1L899.0,980.1L901.0,980.0L903.0,980.0L905.0,979.9L907.0,979.9L909.0,979.8L911.0,979.8L913.0,979.8L915.0,979.7L917.0,979.7L919.0,979.7L921.0,979.7L923.0,979.6L925.0,979.6L927.0,979.6L929.0,979.6L931.0,979.7L933.0,979.7L935.0,979.7L937.0,979.8L939.0,979.8L941.0,979.9L943.0,979.9L945.0,980.0L947.0,980.1L949.0,980.1L951.0,980.2L953.0,980.3L955.0,980.4L957.0,980.5L959.0,980.5L961.0,980.6L963.0,980.7L965.0,980.8L967.0,980.9L969.0,981.0L971.0,981.1L973.0,981.2L975.0,981.3L977.0,981.4L979.0,981.5L981.0,981.6L983.0,981.7L985.0,981.9L987.0,982.0L989.0,982.1L991.0,982.2L993.0,982.3L995.0,982.4L997.0,982.5L999.0,982.6L1001.0,982.7L1003.0,982.8L1005.0,982.9L1007.0,983.0L1009.0,983.1L1011.0,983.2L1013.0,983.3L1015.0,983.4L1017.0,983.5L1019.0,983.6L1021.0,983.7L1023.0,983.9L1025.0,984.0L1027.0,984.1L1029.0,984.2L1031.0,984.3L1033.0,984.4L1035.0,984.6L1037.0,984.7L1039.0,984.8L1041.0,984.9L1043.0,985.0L1045.0,985.1L1047.0,985.3L1049.0,985.4L1051.0,985.5L1053.0,985.6L1055.0,985.7L1057.0,985.8L1059.0,985.9L1061.0,986.0L1063.0,986.1L1065.0,986.2L1067.0,986.3L1069.0,986.4L1071.0,986.5L1073.0,986.6L1075.0,986.7L1077.0,986.8L1079.0,986.9L1081.0,986.9L1083.0,987.0L1085.0,987.1L1087.0,987.1L1089.0,987.2L1091.0,987.3L1093.0,987.3L1095.0,987.4L1097.0,987.4L1099.0,987.5L1101.0,987.5L1103.0,987.6L1105.0,987.7L1107.0,987.7L1109.0,987.8L1111.0,987.8L1113.0,987.9L1115.0,987.9L1117.0,988.0L1119.0,988.0L1121.0,988.0L1123.0,988.1L1125.0,988.1L1127.0,988.2L1129.0,988.2L1131.0,988.3L1133.0,988.3L1135.0,988.3L1137.0,988.4L1139.0,988.4L1141.0,988.5L1143.0,988.5L1145.0,988.5L1147.0,988.6L1149.0,988.6L1151.0,988.7L1153.0,988.7L1155.0,988.7L1157.0,988.8L1159.0,988.8L1161.0,988.8L1163.0,988.9L1165.0,988.9L1167.0,988.9L1169.0,989.0L1171.0,989.0L1173.0,989.0L1175.0,989.1L1177.0,989.1L1179.0,989.1L1181.0,989.2L1183.0,989.2L1185.0,989.2L1187.0,989.2L1189.0,989.3L1191.0,989.3L1193.0,989.3L1195.0,989.4L1197.0,989.4L1199.0,989.4L1201.0,989.4L1203.0,989.5L1205.0,989.5L1207.0,989.5L1209.0,989.6L1211.0,989.6L1213.0,989.6L1215.0,989.6L1217.0,989.7L1219.0,989.7L1221.0,989.7L1223.0,989.8L1225.0,989.8L1227.0,989.8L1229.0,989.8L1231.0,989.9L1233.0,989.9L1235.0,989.9L1237.0,990.0L1239.0,990.0L1241.0,990.0L1243.0,990.0L1245.0,990.1L1247.0,990.1L1249.0,990.1L1251.0,990.1L1253.0,990.1L1255.0,990.1L1257.0,990.1L1259.0,990.1L1261.0,990.1L1263.0,990.1L1265.0,990.1L1267.0,990.1L1269.0,990.1L1271.0,990.0L1273.0,990.0L1275.0,990.0L1277.0,989.9L1279.0,989.8L1281.0,989.7L1283.0,989.5L1285.0,989.3L1287.0,989.0L1289.0,988.7L1291.0,988.4L1293.0,988.0L1295.0,987.6L1297.0,987.2L1299.0,986.8L1301.0,986.4L1303.0,985.9L1305.0,985.5L1307.0,985.0L1309.0,984.5L1311.0,984.1L1313.0,983.6L1315.0,983.1L1317.0,982.6L1319.0,982.1L1321.0,981.6L1323.0,981.0L1325.0,980.4L1327.0,979.9L1329.0,979.2L1331.0,978.6L1333.0,978.0L1335.0,977.3L1337.0,976.7L1339.0,976.0L1341.0,975.3L1343.0,974.6L1345.0,973.9L1347.0,973.2L1349.0,972.5L1351.0,971.8L1353.0,971.1L1355.0,970.4L1357.0,969.7L1359.0,969.0L1361.0,968.4L1363.0,967.7L1365.0,967.0L1367.0,966.4L1369.0,965.7L1371.0,965.1L1373.0,964.4L1375.0,963.8L1377.0,963.1L1379.0,962.4L1381.0,961.8L1383.0,961.1L1385.0,960.4L1387.0,959.7L1389.0,959.0L1391.0,958.4L1393.0,957.7L1395.0,957.1L1397.0,956.5L1399.0,955.9L1401.0,955.3L1403.0,954.8L1405.0,954.3L1407.0,953.8L1409.0,953.3L1411.0,952.9L1413.0,952.6L1415.0,952.2L1417.0,951.9L1419.0,951.6L1421.0,951.3L1423.0,951.1L1425.0,950.9L1427.0,950.7L1429.0,950.6L1431.0,950.5L1433.0,950.4L1435.0,950.4L1437.0,950.4L1439.0,950.4L1441.0,950.5L1443.0,950.6L1445.0,950.8L1447.0,951.0L1449.0,951.2L1451.0,951.5L1453.0,951.8L1455.0,952.1L1457.0,952.5L1459.0,952.8L1461.0,953.3L1463.0,953.7L1465.0,954.3L1467.0,954.8L1469.0,955.5L1471.0,956.1L1473.0,956.9L1475.0,957.6L1477.0,958.4L1479.0,959.2L1481.0,960.1L1483.0,960.9L1485.0,961.8L1487.0,962.7L1489.0,963.6L1491.0,964.5L1493.0,965.4L1495.0,966.2L1497.0,967.1L1499.0,968.0L1501.0,968.8L1503.0,969.6L1505.0,970.4L1507.0,971.2L1509.0,971.9L1511.0,972.7L1513.0,973.5L1515.0,974.2L1517.0,975.0L1519.0,975.8L1521.0,976.6L1523.0,977.3L1525.0,978.1L1527.0,978.9L1529.0,979.7L1531.0,980.4L1533.0,981.2L1535.0,982.0L1537.0,982.7L1539.0,983.5L1541.0,984.2L1543.0,985.0L1545.0,985.7L1547.0,986.4L1549.0,987.2L1551.0,987.9L1553.0,988.6L1555.0,989.3L1557.0,990.0L1559.0,990.7L1561.0,991.3L1563.0,992.0L1565.0,992.6L1567.0,993.2L1569.0,993.8L1571.0,994.4L1573.0,995.0L1575.0,995.6L1577.0,996.1L1579.0,996.7L1581.0,997.3L1583.0,997.9L1585.0,998.5L1587.0,999.0L1589.0,999.6L1591.0,1000.2L1593.0,1000.8L1595.0,1001.5L1597.0,1002.3L1599.0,1003.2L1601.0,1004.3L1603.0,1005.5L1605.0,1006.9L1607.0,1008.3L1609.0,1009.7L1611.0,1011.4L1613.0,1013.6L1615.0,1016.3L1617.0,1019.2L1619.0,1022.4L1621.0,1026.2L1623.0,1030.4L1625.0,1034.9L1627.0,1039.5L1629.0,1043.9L1631.0,1048.0L1633.0,1052.0L1635.0,1056.0L1637.0,1059.9L1639.0,1063.8L1641.0,1067.7L1643.0,1071.7L1645.0,1075.7L1647.0,1079.8L1649.0,1083.8L1651.0,1087.9L1653.0,1091.8L1655.0,1095.8L1657.0,1099.9L1659.0,1104.0L1661.0,1107.9L1663.0,1111.5L1665.0,1114.7L1667.0,1117.4L1669.0,1119.9L1671.0,1122.2L1673.0,1124.3L1675.0,1126.2L1677.0,1127.9L1679.0,1129.4L1681.0,1130.8L1683.0,1132.0L1685.0,1132.6L1687.0,1132.7L1689.0,1132.3L1691.0,1131.4L1693.0,1130.1L1695.0,1127.7L1697.0,1123.8L1699.0,1119.0L1701.0,1113.9L1703.0,1108.9L1705.0,1103.8L1707.0,1098.5L1709.0,1093.1L1711.0,1087.5L1713.0,1081.9L1715.0,1076.3L1717.0,1070.4L1719.0,1064.2L1721.0,1058.0L1723.0,1052.3L1725.0,1047.3L1727.0,1043.1L1729.0,1039.2L1731.0,1035.7L1733.0,1032.4L1735.0,1029.4L1737.0,1026.6L1739.0,1023.9L1741.0,1021.3L1743.0,1018.6L1745.0,1015.9L1747.0,1013.5L1749.0,1011.8L1751.0,1011.1L1753.0,1010.6L1755.0,1010.3L1757.0,1010.1L1759.0,1010.1L1761.0,1010.4L1763.0,1010.8L1765.0,1011.3L1767.0,1011.8L1769.0,1012.3L1771.0,1012.8L1773.0,1013.3L1775.0,1013.8L1777.0,1014.3L1779.0,1014.8L1781.0,1015.2L1783.0,1015.4L1785.0,1015.5L1787.0,1015.6L1789.0,1015.6L1791.0,1015.6L1793.0,1015.6L1795.0,1015.7L1797.0,1015.7L1799.0,1015.7L1801.0,1015.7L1803.0,1015.8L1805.0,1015.8L1807.0,1015.8L1809.0,1015.8L1811.0,1015.8L1813.0,1015.9L1815.0,1015.9L1817.0,1015.9L1819.0,1015.9L1821.0,1015.9L1823.0,1015.9L1825.0,1016.0L1827.0,1016.0L1829.0,1016.0L1831.0,1016.0L1833.0,1016.0L1835.0,1016.1L1837.0,1016.1L1839.0,1016.1L1841.0,1016.1L1843.0,1016.2L1845.0,1016.2L1847.0,1016.2L1849.0,1016.3L1851.0,1016.3L1853.0,1016.4L1855.0,1016.4L1857.0,1016.5L1859.0,1016.6L1861.0,1016.6L1863.0,1016.7L1865.0,1016.8L1867.0,1016.8L1869.0,1016.9L1871.0,1017.0L1873.0,1017.1L1875.0,1017.2L1877.0,1017.2L1879.0,1017.3L1881.0,1017.4L1883.0,1017.5L1885.0,1017.6L1887.0,1017.7L1889.0,1017.8L1891.0,1017.9L1893.0,1018.0L1895.0,1018.0L1897.0,1018.1L1899.0,1018.2L1901.0,1018.3L1903.0,1018.4L1905.0,1018.5L1907.0,1018.6L1909.0,1018.6L1911.0,1018.7L1913.0,1018.8L1915.0,1018.9L1917.0,1018.9L1919.0,1019.0L1921.0,1019.1L1923.0,1019.1L1925.0,1019.2L1927.0,1019.3L1929.0,1019.3L1931.0,1019.4L1933.0,1019.5L1935.0,1019.5L1937.0,1019.6L1939.0,1019.6L1941.0,1019.7L1943.0,1019.8L1945.0,1019.8L1947.0,1019.9L1949.0,1019.9L1951.0,1020.0L1953.0,1020.1L1955.0,1020.1L1957.0,1020.2L1959.0,1020.2L1961.0,1020.3L1963.0,1020.4L1965.0,1020.4L1967.0,1020.5L1969.0,1020.6L1971.0,1020.6L1973.0,1020.7L1975.0,1020.8L1977.0,1020.8L1979.0,1020.9L1981.0,1021.0L1983.0,1021.0L1985.0,1021.1L1987.0,1021.2L1989.0,1021.3L1991.0,1021.4L1993.0,1021.5L1995.0,1021.5L1997.0,1021.6L1999.0,1021.7L2001.0,1021.8L2003.0,1021.9L2005.0,1022.0L2007.0,1022.2L2009.0,1022.3L2011.0,1022.4L2013.0,1022.5L2015.0,1022.6L2017.0,1022.7L2019.0,1022.8L2021.0,1022.9L2023.0,1023.1L2025.0,1023.2L2027.0,1023.3L2029.0,1023.4L2031.0,1023.5L2033.0,1023.6L2035.0,1023.7L2037.0,1023.8L2039.0,1023.9L2041.0,1024.0L2043.0,1024.1L2045.0,1024.2L2047.0,1024.3L2049.0,1024.4L2051.0,1024.5L2053.0,1024.6L2055.0,1024.7L2057.0,1024.8L2059.0,1024.8L2061.0,1024.9L2063.0,1025.0L2065.0,1025.1L2067.0,1025.1L2069.0,1025.2L2071.0,1025.3L2073.0,1025.3L2075.0,1025.4L2077.0,1025.5L2079.0,1025.5L2081.0,1025.6L2083.0,1025.7L2085.0,1025.7L2087.0,1025.8L2089.0,1025.9L2091.0,1025.9L2093.0,1026.0L2095.0,1026.1L2097.0,1026.1L2099.0,1026.2L2101.0,1026.2L2103.0,1026.3L2105.0,1026.4L2107.0,1026.4L2109.0,1026.5L2111.0,1026.5L2113.0,1026.6L2115.0,1026.6L2117.0,1026.7L2119.0,1026.7L2121.0,1026.8L2123.0,1026.8L2125.0,1026.9L2127.0,1026.9L2129.0,1026.9L2131.0,1027.0L2133.0,1027.0L2135.0,1027.0L2137.0,1027.1L2139.0,1027.1L2141.0,1027.1L2143.0,1027.2L2145.0,1027.2L2145.7,1027.2" fill="none" stroke="#0066dd" stroke-width="11.5" stroke-linecap="round" stroke-linejoin="round"/>
<path d="M147.0,1173.5L149.0,1174.2L151.0,1174.9L153.0,1175.6L155.0,1176.2L157.0,1176.8L159.0,1177.3L161.0,1177.7L163.0,1177.9L165.0,1178.0L167.0,1178.1L169.0,1178.0L171.0,1178.0L173.0,1177.9L175.0,1177.9L177.0,1177.8L179.0,1177.7L181.0,1177.7L183.0,1177.6L185.0,1177.7L187.0,1177.7L189.0,1177.8L191.0,1178.0L193.0,1178.1L195.0,1178.3L197.0,1178.4L199.0,1178.6L201.0,1178.7L203.0,1178.9L205.0,1179.1L207.0,1179.3L209.0,1179.4L211.0,1179.6L213.0,1179.8L215.0,1180.0L217.0,1180.1L219.0,1180.3L221.0,1180.5L223.0,1180.6L225.0,1180.8L227.0,1181.0L229.0,1181.2L231.0,1181.4L233.0,1181.5L235.0,1181.7L237.0,1181.9L239.0,1182.0L241.0,1182.2L243.0,1182.3L245.0,1182.5L247.0,1182.6L249.0,1182.7L251.0,1182.8L253.0,1182.9L255.0,1183.0L257.0,1183.1L259.0,1183.1L261.0,1183.2L263.0,1183.3L265.0,1183.3L267.0,1183.4L269.0,1183.5L271.0,1183.5L273.0,1183.6L275.0,1183.7L277.0,1183.7L279.0,1183.8L281.0,1183.9L283.0,1184.0L285.0,1184.1L287.0,1184.1L289.0,1184.2L291.0,1184.3L293.0,1184.5L295.0,1184.6L297.0,1184.7L299.0,1184.8L301.0,1184.9L303.0,1185.0L305.0,1185.1L307.0,1185.2L309.0,1185.3L311.0,1185.4L313.0,1185.6L315.0,1185.7L317.0,1185.8L319.0,1185.9L321.0,1186.0L323.0,1186.1L325.0,1186.2L327.0,1186.3L329.0,1186.4L331.0,1186.6L333.0,1186.7L335.0,1186.8L337.0,1186.9L339.0,1187.0L341.0,1187.0L343.0,1187.1L345.0,1187.2L347.0,1187.3L349.0,1187.4L351.0,1187.5L353.0,1187.6L355.0,1187.7L357.0,1187.7L359.0,1187.8L361.0,1187.9L363.0,1188.0L365.0,1188.1L367.0,1188.2L369.0,1188.2L371.0,1188.3L373.0,1188.4L375.0,1188.5L377.0,1188.5L379.0,1188.6L381.0,1188.7L383.0,1188.8L385.0,1188.9L387.0,1188.9L389.0,1189.0L391.0,1189.1L393.0,1189.2L395.0,1189.3L397.0,1189.3L399.0,1189.4L401.0,1189.5L403.0,1189.6L405.0,1189.7L407.0,1189.8L409.0,1189.8L411.0,1189.9L413.0,1190.0L415.0,1190.1L417.0,1190.2L419.0,1190.3L421.0,1190.4L423.0,1190.5L425.0,1190.6L427.0,1190.7L429.0,1190.7L431.0,1190.8L433.0,1190.9L435.0,1191.0L437.0,1191.1L439.0,1191.2L441.0,1191.3L443.0,1191.4L445.0,1191.5L447.0,1191.6L449.0,1191.7L451.0,1191.8L453.0,1191.9L455.0,1192.0L457.0,1192.0L459.0,1192.1L461.0,1192.2L463.0,1192.3L465.0,1192.4L467.0,1192.5L469.0,1192.6L471.0,1192.7L473.0,1192.8L475.0,1192.9L477.0,1193.0L479.0,1193.1L481.0,1193.2L483.0,1193.3L485.0,1193.4L487.0,1193.5L489.0,1193.6L491.0,1193.7L493.0,1193.8L495.0,1193.9L497.0,1194.0L499.0,1194.1L501.0,1194.2L503.0,1194.3L505.0,1194.3L507.0,1194.4L509.0,1194.5L511.0,1194.6L513.0,1194.7L515.0,1194.8L517.0,1194.9L519.0,1195.0L521.0,1195.1L523.0,1195.2L525.0,1195.3L527.0,1195.4L529.0,1195.5L531.0,1195.6L533.0,1195.7L535.0,1195.8L537.0,1195.9L539.0,1196.0L541.0,1196.1L543.0,1196.2L545.0,1196.3L547.0,1196.4L549.0,1196.5L551.0,1196.6L553.0,1196.7L555.0,1196.8L557.0,1196.9L559.0,1197.1L561.0,1197.2L563.0,1197.3L565.0,1197.4L567.0,1197.5L569.0,1197.6L571.0,1197.7L573.0,1197.8L575.0,1197.9L577.0,1198.0L579.0,1198.1L581.0,1198.2L583.0,1198.3L585.0,1198.4L587.0,1198.5L589.0,1198.6L591.0,1198.7L593.0,1198.8L595.0,1198.9L597.0,1199.0L599.0,1199.1L601.0,1199.2L603.0,1199.3L605.0,1199.4L607.0,1199.5L609.0,1199.7L611.0,1199.8L613.0,1199.9L615.0,1200.0L617.0,1200.1L619.0,1200.2L621.0,1200.3L623.0,1200.4L625.0,1200.5L627.0,1200.6L629.0,1200.7L631.0,1200.8L633.0,1200.9L635.0,1201.0L637.0,1201.2L639.0,1201.3L641.0,1201.4L643.0,1201.5L645.0,1201.6L647.0,1201.7L649.0,1201.8L651.0,1202.0L653.0,1202.1L655.0,1202.2L657.0,1202.3L659.0,1202.5L661.0,1202.6L663.0,1202.7L665.0,1202.8L667.0,1203.0L669.0,1203.1L671.0,1203.2L673.0,1203.3L675.0,1203.5L677.0,1203.6L679.0,1203.7L681.0,1203.9L683.0,1204.0L685.0,1204.1L687.0,1204.3L689.0,1204.4L691.0,1204.6L693.0,1204.7L695.0,1204.8L697.0,1205.0L699.0,1205.1L701.0,1205.3L703.0,1205.4L705.0,1205.5L707.0,1205.7L709.0,1205.8L711.0,1206.0L713.0,1206.1L715.0,1206.3L717.0,1206.4L719.0,1206.5L721.0,1206.7L723.0,1206.8L725.0,1207.0L727.0,1207.1L729.0,1207.3L731.0,1207.4L733.0,1207.6L735.0,1207.7L737.0,1207.9L739.0,1208.1L741.0,1208.3L743.0,1208.5L745.0,1208.7L747.0,1208.9L749.0,1209.1L751.0,1209.4L753.0,1209.6L755.0,1209.9L757.0,1210.1L759.0,1210.4L761.0,1210.7L763.0,1211.0L765.0,1211.3L767.0,1211.6L769.0,1211.9L771.0,1212.3L773.0,1212.6L775.0,1212.9L777.0,1213.3L779.0,1213.7L781.0,1214.3L783.0,1214.8L785.0,1215.5L787.0,1216.2L789.0,1216.9L791.0,1217.7L793.0,1218.5L795.0,1219.3L797.0,1220.2L799.0,1221.1L801.0,1222.0L803.0,1222.9L805.0,1223.9L807.0,1225.0L809.0,1226.1L811.0,1227.4L813.0,1228.7L815.0,1230.0L817.0,1231.3L819.0,1232.6L821.0,1234.0L823.0,1235.2L825.0,1236.4L827.0,1237.5L829.0,1238.6L831.0,1239.5L833.0,1240.5L835.0,1241.5L837.0,1242.4L839.0,1243.4L841.0,1244.3L843.0,1245.2L845.0,1246.1L847.0,1246.8L849.0,1247.4L851.0,1247.9L853.0,1248.3L855.0,1248.5L857.0,1248.6L859.0,1248.5L861.0,1248.5L863.0,1248.4L865.0,1248.3L867.0,1248.1L869.0,1248.0L871.0,1247.8L873.0,1247.6L875.0,1247.4L877.0,1247.3L879.0,1247.1L881.0,1246.9L883.0,1246.7L885.0,1246.5L887.0,1246.4L889.0,1246.2L891.0,1246.1L893.0,1246.0L895.0,1245.9L897.0,1245.8L899.0,1245.8L901.0,1245.7L903.0,1245.7L905.0,1245.6L907.0,1245.6L909.0,1245.5L911.0,1245.5L913.0,1245.4L915.0,1245.4L917.0,1245.3L919.0,1245.3L921.0,1245.2L923.0,1245.2L925.0,1245.2L927.0,1245.2L929.0,1245.2L931.0,1245.2L933.0,1245.2L935.0,1245.2L937.0,1245.3L939.0,1245.3L941.0,1245.4L943.0,1245.4L945.0,1245.5L947.0,1245.6L949.0,1245.7L951.0,1245.8L953.0,1245.9L955.0,1246.0L957.0,1246.2L959.0,1246.3L961.0,1246.4L963.0,1246.5L965.0,1246.7L967.0,1246.8L969.0,1247.0L971.0,1247.1L973.0,1247.3L975.0,1247.4L977.0,1247.6L979.0,1247.7L981.0,1247.9L983.0,1248.0L985.0,1248.1L987.0,1248.3L989.0,1248.4L991.0,1248.6L993.0,1248.7L995.0,1248.8L997.0,1249.0L999.0,1249.1L1001.0,1249.2L1003.0,1249.3L1005.0,1249.4L1007.0,1249.5L1009.0,1249.6L1011.0,1249.7L1013.0,1249.8L1015.0,1249.9L1017.0,1249.9L1019.0,1250.0L1021.0,1250.1L1023.0,1250.2L1025.0,1250.3L1027.0,1250.3L1029.0,1250.4L1031.0,1250.5L1033.0,1250.6L1035.0,1250.6L1037.0,1250.7L1039.0,1250.8L1041.0,1250.8L1043.0,1250.9L1045.0,1251.0L1047.0,1251.0L1049.0,1251.1L1051.0,1251.2L1053.0,1251.2L1055.0,1251.3L1057.0,1251.4L1059.0,1251.5L1061.0,1251.5L1063.0,1251.6L1065.0,1251.7L1067.0,1251.7L1069.0,1251.8L1071.0,1251.9L1073.0,1252.0L1075.0,1252.0L1077.0,1252.1L1079.0,1252.2L1081.0,1252.3L1083.0,1252.4L1085.0,1252.4L1087.0,1252.5L1089.0,1252.6L1091.0,1252.7L1093.0,1252.8L1095.0,1252.9L1097.0,1253.0L1099.0,1253.1L1101.0,1253.2L1103.0,1253.3L1105.0,1253.3L1107.0,1253.4L1109.0,1253.5L1111.0,1253.6L1113.0,1253.7L1115.0,1253.8L1117.0,1253.9L1119.0,1254.0L1121.0,1254.1L1123.0,1254.2L1125.0,1254.3L1127.0,1254.4L1129.0,1254.5L1131.0,1254.6L1133.0,1254.7L1135.0,1254.8L1137.0,1254.9L1139.0,1255.0L1141.0,1255.1L1143.0,1255.2L1145.0,1255.3L1147.0,1255.4L1149.0,1255.6L1151.0,1255.7L1153.0,1255.8L1155.0,1255.9L1157.0,1256.0L1159.0,1256.1L1161.0,1256.2L1163.0,1256.3L1165.0,1256.4L1167.0,1256.5L1169.0,1256.6L1171.0,1256.7L1173.0,1256.8L1175.0,1256.9L1177.0,1257.1L1179.0,1257.2L1181.0,1257.3L1183.0,1257.4L1185.0,1257.5L1187.0,1257.7L1189.0,1257.8L1191.0,1257.9L1193.0,1258.0L1195.0,1258.2L1197.0,1258.3L1199.0,1258.4L1201.0,1258.6L1203.0,1258.7L1205.0,1258.8L1207.0,1258.9L1209.0,1259.1L1211.0,1259.2L1213.0,1259.3L1215.0,1259.5L1217.0,1259.6L1219.0,1259.7L1221.0,1259.8L1223.0,1259.9L1225.0,1260.0L1227.0,1260.2L1229.0,1260.3L1231.0,1260.4L1233.0,1260.5L1235.0,1260.6L1237.0,1260.7L1239.0,1260.8L1241.0,1260.8L1243.0,1260.9L1245.0,1261.0L1247.0,1261.1L1249.0,1261.2L1251.0,1261.2L1253.0,1261.3L1255.0,1261.4L1257.0,1261.4L1259.0,1261.5L1261.0,1261.6L1263.0,1261.6L1265.0,1261.7L1267.0,1261.7L1269.0,1261.8L1271.0,1261.8L1273.0,1261.9L1275.0,1261.9L1277.0,1261.9L1279.0,1262.0L1281.0,1262.0L1283.0,1262.0L1285.0,1262.1L1287.0,1262.1L1289.0,1262.0L1291.0,1262.0L1293.0,1262.0L1295.0,1261.9L1297.0,1261.9L1299.0,1261.8L1301.0,1261.8L1303.0,1261.7L1305.0,1261.6L1307.0,1261.5L1309.0,1261.4L1311.0,1261.3L1313.0,1261.2L1315.0,1261.0L1317.0,1260.9L1319.0,1260.7L1321.0,1260.4L1323.0,1260.1L1325.0,1259.8L1327.0,1259.4L1329.0,1259.0L1331.0,1258.5L1333.0,1258.1L1335.0,1257.6L1337.0,1257.1L1339.0,1256.6L1341.0,1256.1L1343.0,1255.6L1345.0,1255.1L1347.0,1254.6L1349.0,1254.1L1351.0,1253.6L1353.0,1253.2L1355.0,1252.8L1357.0,1252.4L1359.0,1252.0L1361.0,1251.7L1363.0,1251.3L1365.0,1250.9L1367.0,1250.6L1369.0,1250.2L1371.0,1249.8L1373.0,1249.5L1375.0,1249.1L1377.0,1248.7L1379.0,1248.4L1381.0,1248.0L1383.0,1247.7L1385.0,1247.3L1387.0,1247.0L1389.0,1246.6L1391.0,1246.3L1393.0,1246.0L1395.0,1245.6L1397.0,1245.3L1399.0,1245.0L1401.0,1244.6L1403.0,1244.3L1405.0,1244.0L1407.0,1243.7L1409.0,1243.4L1411.0,1243.1L1413.0,1242.7L1415.0,1242.4L1417.0,1242.1L1419.0,1241.8L1421.0,1241.5L1423.0,1241.2L1425.0,1240.9L1427.0,1240.6L1429.0,1240.3L1431.0,1240.0L1433.0,1239.8L1435.0,1239.5L1437.0,1239.2L1439.0,1239.0L1441.0,1238.7L1443.0,1238.5L1445.0,1238.3L1447.0,1238.1L1449.0,1237.9L1451.0,1237.7L1453.0,1237.6L1455.0,1237.5L1457.0,1237.4L1459.0,1237.3L1461.0,1237.2L1463.0,1237.2L1465.0,1237.2L1467.0,1237.2L1469.0,1237.2L1471.0,1237.3L1473.0,1237.4L1475.0,1237.5L1477.0,1237.6L1479.0,1237.7L1481.0,1237.9L1483.0,1238.0L1485.0,1238.2L1487.0,1238.4L1489.0,1238.6L1491.0,1238.8L1493.0,1239.1L1495.0,1239.3L1497.0,1239.7L1499.0,1240.0L1501.0,1240.5L1503.0,1240.9L1505.0,1241.4L1507.0,1241.9L1509.0,1242.4L1511.0,1243.0L1513.0,1243.6L1515.0,1244.2L1517.0,1244.8L1519.0,1245.5L1521.0,1246.1L1523.0,1246.7L1525.0,1247.4L1527.0,1248.0L1529.0,1248.6L1531.0,1249.3L1533.0,1249.9L1535.0,1250.5L1537.0,1251.1L1539.0,1251.8L1541.0,1252.4L1543.0,1253.1L1545.0,1253.8L1547.0,1254.4L1549.0,1255.1L1551.0,1255.8L1553.0,1256.5L1555.0,1257.1L1557.0,1257.8L1559.0,1258.4L1561.0,1259.0L1563.0,1259.6L1565.0,1260.1L1567.0,1260.7L1569.0,1261.2L1571.0,1261.7L1573.0,1262.3L1575.0,1262.8L1577.0,1263.3L1579.0,1263.9L1581.0,1264.4L1583.0,1265.0L1585.0,1265.6L1587.0,1266.1L1589.0,1266.7L1591.0,1267.3L1593.0,1267.9L1595.0,1268.5L1597.0,1269.2L1599.0,1269.9L1601.0,1270.5L1603.0,1271.3L1605.0,1272.0L1607.0,1272.8L1609.0,1273.8L1611.0,1274.9L1613.0,1276.2L1615.0,1277.6L1617.0,1279.1L1619.0,1280.7L1621.0,1282.2L1623.0,1283.9L1625.0,1285.7L1627.0,1287.7L1629.0,1289.8L1631.0,1291.9L1633.0,1294.1L1635.0,1296.3L1637.0,1298.6L1639.0,1301.1L1641.0,1303.6L1643.0,1306.3L1645.0,1309.1L1647.0,1312.0L1649.0,1315.0L1651.0,1318.3L1653.0,1321.7L1655.0,1325.4L1657.0,1329.2L1659.0,1333.0L1661.0,1336.9L1663.0,1340.8L1665.0,1344.7L1667.0,1348.8L1669.0,1353.0L1671.0,1357.0L1673.0,1361.0L1675.0,1364.7L1677.0,1368.4L1679.0,1372.1L1681.0,1375.4L1683.0,1378.1L1685.0,1380.2L1687.0,1381.8L1689.0,1383.1L1691.0,1383.6L1693.0,1383.6L1695.0,1383.0L1697.0,1382.1L1699.0,1380.9L1701.0,1379.4L1703.0,1377.2L1705.0,1374.5L1707.0,1371.3L1709.0,1367.8L1711.0,1364.1L1713.0,1360.3L1715.0,1355.9L1717.0,1351.2L1719.0,1346.3L1721.0,1341.5L1723.0,1336.9L1725.0,1332.5L1727.0,1328.1L1729.0,1323.7L1731.0,1319.5L1733.0,1315.8L1735.0,1312.7L1737.0,1310.0L1739.0,1307.6L1741.0,1305.4L1743.0,1303.4L1745.0,1301.9L1747.0,1300.6L1749.0,1299.6L1751.0,1298.6L1753.0,1297.7L1755.0,1296.8L1757.0,1295.9L1759.0,1295.1L1761.0,1294.5L1763.0,1294.0L1765.0,1293.6L1767.0,1293.2L1769.0,1292.8L1771.0,1292.5L1773.0,1292.1L1775.0,1291.8L1777.0,1291.6L1779.0,1291.4L1781.0,1291.4L1783.0,1291.5L1785.0,1291.6L1787.0,1291.7L1789.0,1291.8L1791.0,1292.0L1793.0,1292.1L1795.0,1292.3L1797.0,1292.4L1799.0,1292.5L1801.0,1292.7L1803.0,1292.7L1805.0,1292.8L1807.0,1292.9L1809.0,1293.0L1811.0,1293.1L1813.0,1293.2L1815.0,1293.3L1817.0,1293.4L1819.0,1293.5L1821.0,1293.6L1823.0,1293.7L1825.0,1293.8L1827.0,1293.9L1829.0,1294.0L1831.0,1294.1L1833.0,1294.2L1835.0,1294.3L1837.0,1294.4L1839.0,1294.5L1841.0,1294.6L1843.0,1294.7L1845.0,1294.8L1847.0,1294.9L1849.0,1295.0L1851.0,1295.1L1853.0,1295.1L1855.0,1295.2L1857.0,1295.3L1859.0,1295.4L1861.0,1295.5L1863.0,1295.6L1865.0,1295.7L1867.0,1295.8L1869.0,1295.9L1871.0,1296.1L1873.0,1296.2L1875.0,1296.3L1877.0,1296.4L1879.0,1296.5L1881.0,1296.6L1883.0,1296.7L1885.0,1296.8L1887.0,1296.9L1889.0,1297.0L1891.0,1297.1L1893.0,1297.2L1895.0,1297.4L1897.0,1297.5L1899.0,1297.6L1901.0,1297.7L1903.0,1297.8L1905.0,1298.0L1907.0,1298.1L1909.0,1298.2L1911.0,1298.4L1913.0,1298.5L1915.0,1298.6L1917.0,1298.7L1919.0,1298.9L1921.0,1299.0L1923.0,1299.1L1925.0,1299.3L1927.0,1299.4L1929.0,1299.6L1931.0,1299.7L1933.0,1299.8L1935.0,1300.0L1937.0,1300.1L1939.0,1300.2L1941.0,1300.4L1943.0,1300.5L1945.0,1300.7L1947.0,1300.8L1949.0,1300.9L1951.0,1301.1L1953.0,1301.2L1955.0,1301.3L1957.0,1301.5L1959.0,1301.6L1961.0,1301.7L1963.0,1301.9L1965.0,1302.0L1967.0,1302.1L1969.0,1302.3L1971.0,1302.4L1973.0,1302.5L1975.0,1302.7L1977.0,1302.8L1979.0,1303.0L1981.0,1303.1L1983.0,1303.2L1985.0,1303.4L1987.0,1303.5L1989.0,1303.6L1991.0,1303.8L1993.0,1303.9L1995.0,1304.1L1997.0,1304.2L1999.0,1304.3L2001.0,1304.5L2003.0,1304.6L2005.0,1304.7L2007.0,1304.9L2009.0,1305.0L2011.0,1305.1L2013.0,1305.3L2015.0,1305.4L2017.0,1305.5L2019.0,1305.7L2021.0,1305.8L2023.0,1305.9L2025.0,1306.0L2027.0,1306.2L2029.0,1306.3L2031.0,1306.4L2033.0,1306.5L2035.0,1306.6L2037.0,1306.8L2039.0,1306.9L2041.0,1307.0L2043.0,1307.1L2045.0,1307.2L2047.0,1307.4L2049.0,1307.5L2051.0,1307.6L2053.0,1307.7L2055.0,1307.8L2057.0,1307.9L2059.0,1308.1L2061.0,1308.2L2063.0,1308.3L2065.0,1308.4L2067.0,1308.5L2069.0,1308.6L2071.0,1308.7L2073.0,1308.9L2075.0,1309.0L2077.0,1309.1L2079.0,1309.2L2081.0,1309.3L2083.0,1309.4L2085.0,1309.4L2087.0,1309.5L2089.0,1309.6L2091.0,1309.7L2093.0,1309.8L2095.0,1309.9L2097.0,1309.9L2099.0,1310.0L2101.0,1310.1L2103.0,1310.1L2105.0,1310.2L2107.0,1310.2L2109.0,1310.3L2111.0,1310.3L2113.0,1310.4L2115.0,1310.4L2117.0,1310.4L2119.0,1310.5L2121.0,1310.5L2123.0,1310.5L2125.0,1310.5L2127.0,1310.5L2129.0,1310.6L2131.0,1310.6L2133.0,1310.6L2135.0,1310.6L2137.0,1310.6L2139.0,1310.6L2141.0,1310.5L2143.0,1310.5L2145.0,1310.5L2145.7,1310.5" fill="none" stroke="#ff0000" stroke-width="12" stroke-linecap="round" stroke-linejoin="round"/>
<path d="M147.0,1453.5L149.0,1454.6L151.0,1455.7L153.0,1456.8L155.0,1457.8L157.0,1458.7L159.0,1459.5L161.0,1460.1L163.0,1460.4L165.0,1460.5L167.0,1460.6L169.0,1460.6L171.0,1460.5L173.0,1460.5L175.0,1460.4L177.0,1460.3L179.0,1460.2L181.0,1460.1L183.0,1460.0L185.0,1459.9L187.0,1459.8L189.0,1459.8L191.0,1459.8L193.0,1459.8L195.0,1459.8L197.0,1459.9L199.0,1460.1L201.0,1460.2L203.0,1460.4L205.0,1460.6L207.0,1460.8L209.0,1461.0L211.0,1461.2L213.0,1461.4L215.0,1461.7L217.0,1461.9L219.0,1462.1L221.0,1462.3L223.0,1462.5L225.0,1462.7L227.0,1462.9L229.0,1463.0L231.0,1463.2L233.0,1463.3L235.0,1463.4L237.0,1463.5L239.0,1463.6L241.0,1463.6L243.0,1463.7L245.0,1463.7L247.0,1463.8L249.0,1463.8L251.0,1463.9L253.0,1463.9L255.0,1463.9L257.0,1464.0L259.0,1464.0L261.0,1464.0L263.0,1464.1L265.0,1464.1L267.0,1464.1L269.0,1464.2L271.0,1464.2L273.0,1464.2L275.0,1464.3L277.0,1464.3L279.0,1464.3L281.0,1464.4L283.0,1464.4L285.0,1464.5L287.0,1464.5L289.0,1464.6L291.0,1464.6L293.0,1464.7L295.0,1464.8L297.0,1464.8L299.0,1464.9L301.0,1464.9L303.0,1465.0L305.0,1465.0L307.0,1465.1L309.0,1465.2L311.0,1465.2L313.0,1465.3L315.0,1465.3L317.0,1465.4L319.0,1465.5L321.0,1465.5L323.0,1465.6L325.0,1465.7L327.0,1465.7L329.0,1465.8L331.0,1465.9L333.0,1465.9L335.0,1466.0L337.0,1466.1L339.0,1466.1L341.0,1466.2L343.0,1466.3L345.0,1466.4L347.0,1466.4L349.0,1466.5L351.0,1466.6L353.0,1466.7L355.0,1466.7L357.0,1466.8L359.0,1466.9L361.0,1467.0L363.0,1467.0L365.0,1467.1L367.0,1467.2L369.0,1467.3L371.0,1467.4L373.0,1467.4L375.0,1467.5L377.0,1467.6L379.0,1467.7L381.0,1467.8L383.0,1467.8L385.0,1467.9L387.0,1468.0L389.0,1468.1L391.0,1468.2L393.0,1468.2L395.0,1468.3L397.0,1468.4L399.0,1468.5L401.0,1468.6L403.0,1468.6L405.0,1468.7L407.0,1468.8L409.0,1468.9L411.0,1468.9L413.0,1469.0L415.0,1469.1L417.0,1469.2L419.0,1469.2L421.0,1469.3L423.0,1469.4L425.0,1469.4L427.0,1469.5L429.0,1469.6L431.0,1469.6L433.0,1469.7L435.0,1469.8L437.0,1469.8L439.0,1469.9L441.0,1470.0L443.0,1470.0L445.0,1470.1L447.0,1470.2L449.0,1470.2L451.0,1470.3L453.0,1470.3L455.0,1470.4L457.0,1470.5L459.0,1470.5L461.0,1470.6L463.0,1470.7L465.0,1470.7L467.0,1470.8L469.0,1470.9L471.0,1470.9L473.0,1471.0L475.0,1471.1L477.0,1471.1L479.0,1471.2L481.0,1471.3L483.0,1471.4L485.0,1471.4L487.0,1471.5L489.0,1471.6L491.0,1471.7L493.0,1471.8L495.0,1471.8L497.0,1471.9L499.0,1472.0L501.0,1472.1L503.0,1472.2L505.0,1472.3L507.0,1472.4L509.0,1472.5L511.0,1472.6L513.0,1472.7L515.0,1472.8L517.0,1472.9L519.0,1473.0L521.0,1473.1L523.0,1473.2L525.0,1473.3L527.0,1473.4L529.0,1473.5L531.0,1473.6L533.0,1473.7L535.0,1473.9L537.0,1474.0L539.0,1474.1L541.0,1474.2L543.0,1474.3L545.0,1474.4L547.0,1474.5L549.0,1474.6L551.0,1474.7L553.0,1474.9L555.0,1475.0L557.0,1475.1L559.0,1475.2L561.0,1475.3L563.0,1475.4L565.0,1475.5L567.0,1475.6L569.0,1475.7L571.0,1475.8L573.0,1475.9L575.0,1476.0L577.0,1476.0L579.0,1476.1L581.0,1476.2L583.0,1476.3L585.0,1476.4L587.0,1476.5L589.0,1476.5L591.0,1476.6L593.0,1476.7L595.0,1476.7L597.0,1476.8L599.0,1476.9L601.0,1476.9L603.0,1477.0L605.0,1477.1L607.0,1477.1L609.0,1477.2L611.0,1477.2L613.0,1477.3L615.0,1477.3L617.0,1477.4L619.0,1477.5L621.0,1477.5L623.0,1477.6L625.0,1477.6L627.0,1477.7L629.0,1477.7L631.0,1477.8L633.0,1477.8L635.0,1477.9L637.0,1478.0L639.0,1478.0L641.0,1478.1L643.0,1478.1L645.0,1478.2L647.0,1478.2L649.0,1478.3L651.0,1478.4L653.0,1478.4L655.0,1478.5L657.0,1478.6L659.0,1478.6L661.0,1478.7L663.0,1478.8L665.0,1478.9L667.0,1478.9L669.0,1479.0L671.0,1479.1L673.0,1479.2L675.0,1479.3L677.0,1479.4L679.0,1479.5L681.0,1479.5L683.0,1479.7L685.0,1479.8L687.0,1479.9L689.0,1480.0L691.0,1480.1L693.0,1480.3L695.0,1480.4L697.0,1480.5L699.0,1480.7L701.0,1480.8L703.0,1481.0L705.0,1481.2L707.0,1481.3L709.0,1481.5L711.0,1481.7L713.0,1481.8L715.0,1482.0L717.0,1482.2L719.0,1482.3L721.0,1482.5L723.0,1482.7L725.0,1482.8L727.0,1483.0L729.0,1483.2L731.0,1483.3L733.0,1483.5L735.0,1483.6L737.0,1483.8L739.0,1484.0L741.0,1484.1L743.0,1484.3L745.0,1484.4L747.0,1484.6L749.0,1484.8L751.0,1484.9L753.0,1485.1L755.0,1485.3L757.0,1485.4L759.0,1485.6L761.0,1485.8L763.0,1486.0L765.0,1486.2L767.0,1486.4L769.0,1486.6L771.0,1486.8L773.0,1487.0L775.0,1487.2L777.0,1487.5L779.0,1487.7L781.0,1487.9L783.0,1488.2L785.0,1488.5L787.0,1488.7L789.0,1489.0L791.0,1489.3L793.0,1489.8L795.0,1490.4L797.0,1491.1L799.0,1491.8L801.0,1492.6L803.0,1493.5L805.0,1494.5L807.0,1495.4L809.0,1496.4L811.0,1497.4L813.0,1498.4L815.0,1499.4L817.0,1500.4L819.0,1501.4L821.0,1502.4L823.0,1503.5L825.0,1504.7L827.0,1505.8L829.0,1507.0L831.0,1508.2L833.0,1509.5L835.0,1510.7L837.0,1512.0L839.0,1513.3L841.0,1514.6L843.0,1516.0L845.0,1517.3L847.0,1518.8L849.0,1520.3L851.0,1521.8L853.0,1523.4L855.0,1525.0L857.0,1526.6L859.0,1528.1L861.0,1529.6L863.0,1531.0L865.0,1532.4L867.0,1533.7L869.0,1535.1L871.0,1536.5L873.0,1537.8L875.0,1539.1L877.0,1540.2L879.0,1541.3L881.0,1542.1L883.0,1542.7L885.0,1543.1L887.0,1543.3L889.0,1543.5L891.0,1543.6L893.0,1543.6L895.0,1543.6L897.0,1543.5L899.0,1543.3L901.0,1543.1L903.0,1542.8L905.0,1542.4L907.0,1542.0L909.0,1541.5L911.0,1540.9L913.0,1540.3L915.0,1539.6L917.0,1538.9L919.0,1538.2L921.0,1537.6L923.0,1537.1L925.0,1536.7L927.0,1536.4L929.0,1536.1L931.0,1535.8L933.0,1535.5L935.0,1535.2L937.0,1535.0L939.0,1534.9L941.0,1534.8L943.0,1534.8L945.0,1534.8L947.0,1534.9L949.0,1535.0L951.0,1535.1L953.0,1535.3L955.0,1535.4L957.0,1535.5L959.0,1535.7L961.0,1535.8L963.0,1536.0L965.0,1536.1L967.0,1536.3L969.0,1536.5L971.0,1536.6L973.0,1536.8L975.0,1537.0L977.0,1537.2L979.0,1537.4L981.0,1537.5L983.0,1537.7L985.0,1537.9L987.0,1538.0L989.0,1538.2L991.0,1538.4L993.0,1538.5L995.0,1538.7L997.0,1538.9L999.0,1539.0L1001.0,1539.1L1003.0,1539.3L1005.0,1539.4L1007.0,1539.5L1009.0,1539.6L1011.0,1539.7L1013.0,1539.8L1015.0,1539.9L1017.0,1540.0L1019.0,1540.1L1021.0,1540.2L1023.0,1540.4L1025.0,1540.5L1027.0,1540.6L1029.0,1540.7L1031.0,1540.8L1033.0,1540.9L1035.0,1541.0L1037.0,1541.1L1039.0,1541.2L1041.0,1541.3L1043.0,1541.4L1045.0,1541.5L1047.0,1541.6L1049.0,1541.7L1051.0,1541.8L1053.0,1541.8L1055.0,1541.9L1057.0,1542.0L1059.0,1542.1L1061.0,1542.2L1063.0,1542.3L1065.0,1542.4L1067.0,1542.5L1069.0,1542.6L1071.0,1542.7L1073.0,1542.8L1075.0,1542.9L1077.0,1543.0L1079.0,1543.1L1081.0,1543.2L1083.0,1543.2L1085.0,1543.3L1087.0,1543.4L1089.0,1543.5L1091.0,1543.6L1093.0,1543.7L1095.0,1543.8L1097.0,1543.9L1099.0,1544.0L1101.0,1544.1L1103.0,1544.2L1105.0,1544.2L1107.0,1544.3L1109.0,1544.4L1111.0,1544.5L1113.0,1544.6L1115.0,1544.7L1117.0,1544.8L1119.0,1544.9L1121.0,1545.0L1123.0,1545.1L1125.0,1545.2L1127.0,1545.3L1129.0,1545.4L1131.0,1545.4L1133.0,1545.5L1135.0,1545.6L1137.0,1545.7L1139.0,1545.8L1141.0,1545.9L1143.0,1546.0L1145.0,1546.0L1147.0,1546.1L1149.0,1546.2L1151.0,1546.3L1153.0,1546.4L1155.0,1546.4L1157.0,1546.5L1159.0,1546.6L1161.0,1546.7L1163.0,1546.7L1165.0,1546.8L1167.0,1546.9L1169.0,1547.0L1171.0,1547.0L1173.0,1547.1L1175.0,1547.1L1177.0,1547.2L1179.0,1547.3L1181.0,1547.3L1183.0,1547.4L1185.0,1547.5L1187.0,1547.5L1189.0,1547.6L1191.0,1547.6L1193.0,1547.7L1195.0,1547.7L1197.0,1547.8L1199.0,1547.9L1201.0,1547.9L1203.0,1548.0L1205.0,1548.0L1207.0,1548.1L1209.0,1548.1L1211.0,1548.2L1213.0,1548.3L1215.0,1548.3L1217.0,1548.4L1219.0,1548.4L1221.0,1548.5L1223.0,1548.5L1225.0,1548.6L1227.0,1548.6L1229.0,1548.7L1231.0,1548.7L1233.0,1548.8L1235.0,1548.8L1237.0,1548.9L1239.0,1548.9L1241.0,1549.0L1243.0,1549.0L1245.0,1549.1L1247.0,1549.1L1249.0,1549.2L1251.0,1549.2L1253.0,1549.3L1255.0,1549.3L1257.0,1549.4L1259.0,1549.4L1261.0,1549.5L1263.0,1549.5L1265.0,1549.6L1267.0,1549.6L1269.0,1549.7L1271.0,1549.7L1273.0,1549.8L1275.0,1549.8L1277.0,1549.9L1279.0,1549.9L1281.0,1550.0L1283.0,1550.0L1285.0,1550.1L1287.0,1550.1L1289.0,1550.2L1291.0,1550.2L1293.0,1550.3L1295.0,1550.3L1297.0,1550.4L1299.0,1550.4L1301.0,1550.5L1303.0,1550.5L1305.0,1550.6L1307.0,1550.6L1309.0,1550.7L1311.0,1550.7L1313.0,1550.8L1315.0,1550.8L1317.0,1550.9L1319.0,1550.9L1321.0,1551.0L1323.0,1551.0L1325.0,1551.0L1327.0,1551.1L1329.0,1551.1L1331.0,1551.2L1333.0,1551.2L1335.0,1551.3L1337.0,1551.3L1339.0,1551.3L1341.0,1551.4L1343.0,1551.4L1345.0,1551.5L1347.0,1551.5L1349.0,1551.6L1351.0,1551.6L1353.0,1551.7L1355.0,1551.7L1357.0,1551.8L1359.0,1551.8L1361.0,1551.9L1363.0,1551.9L1365.0,1552.0L1367.0,1552.0L1369.0,1552.1L1371.0,1552.1L1373.0,1552.2L1375.0,1552.2L1377.0,1552.3L1379.0,1552.4L1381.0,1552.4L1383.0,1552.5L1385.0,1552.6L1387.0,1552.6L1389.0,1552.7L1391.0,1552.8L1393.0,1552.9L1395.0,1553.0L1397.0,1553.0L1399.0,1553.1L1401.0,1553.2L1403.0,1553.4L1405.0,1553.5L1407.0,1553.6L1409.0,1553.7L1411.0,1553.8L1413.0,1553.9L1415.0,1554.1L1417.0,1554.2L1419.0,1554.3L1421.0,1554.4L1423.0,1554.6L1425.0,1554.7L1427.0,1554.9L1429.0,1555.0L1431.0,1555.1L1433.0,1555.3L1435.0,1555.4L1437.0,1555.6L1439.0,1555.7L1441.0,1555.9L1443.0,1556.0L1445.0,1556.2L1447.0,1556.3L1449.0,1556.5L1451.0,1556.6L1453.0,1556.8L1455.0,1556.9L1457.0,1557.1L1459.0,1557.2L1461.0,1557.4L1463.0,1557.5L1465.0,1557.7L1467.0,1557.8L1469.0,1558.0L1471.0,1558.2L1473.0,1558.3L1475.0,1558.5L1477.0,1558.6L1479.0,1558.8L1481.0,1559.0L1483.0,1559.2L1485.0,1559.3L1487.0,1559.5L1489.0,1559.7L1491.0,1559.9L1493.0,1560.1L1495.0,1560.3L1497.0,1560.4L1499.0,1560.6L1501.0,1560.8L1503.0,1561.0L1505.0,1561.2L1507.0,1561.4L1509.0,1561.6L1511.0,1561.8L1513.0,1562.0L1515.0,1562.1L1517.0,1562.3L1519.0,1562.5L1521.0,1562.7L1523.0,1562.9L1525.0,1563.1L1527.0,1563.3L1529.0,1563.5L1531.0,1563.6L1533.0,1563.8L1535.0,1564.0L1537.0,1564.2L1539.0,1564.3L1541.0,1564.5L1543.0,1564.7L1545.0,1564.8L1547.0,1565.0L1549.0,1565.2L1551.0,1565.3L1553.0,1565.4L1555.0,1565.6L1557.0,1565.7L1559.0,1565.8L1561.0,1565.9L1563.0,1566.1L1565.0,1566.2L1567.0,1566.3L1569.0,1566.4L1571.0,1566.5L1573.0,1566.6L1575.0,1566.7L1577.0,1566.8L1579.0,1566.9L1581.0,1567.0L1583.0,1567.2L1585.0,1567.3L1587.0,1567.4L1589.0,1567.6L1591.0,1567.7L1593.0,1567.8L1595.0,1568.0L1597.0,1568.2L1599.0,1568.4L1601.0,1568.6L1603.0,1568.9L1605.0,1569.1L1607.0,1569.4L1609.0,1569.7L1611.0,1570.1L1613.0,1570.4L1615.0,1570.8L1617.0,1571.2L1619.0,1571.6L1621.0,1572.1L1623.0,1572.6L1625.0,1573.2L1627.0,1573.8L1629.0,1574.4L1631.0,1575.1L1633.0,1575.7L1635.0,1576.4L1637.0,1577.0L1639.0,1577.7L1641.0,1578.3L1643.0,1578.9L1645.0,1579.5L1647.0,1580.1L1649.0,1580.7L1651.0,1581.4L1653.0,1582.0L1655.0,1582.6L1657.0,1583.2L1659.0,1583.7L1661.0,1584.2L1663.0,1584.6L1665.0,1585.0L1667.0,1585.3L1669.0,1585.5L1671.0,1585.8L1673.0,1586.0L1675.0,1586.2L1677.0,1586.3L1679.0,1586.4L1681.0,1586.5L1683.0,1586.6L1685.0,1586.7L1687.0,1586.7L1689.0,1586.7L1691.0,1586.6L1693.0,1586.6L1695.0,1586.4L1697.0,1586.2L1699.0,1586.0L1701.0,1585.8L1703.0,1585.5L1705.0,1585.2L1707.0,1584.8L1709.0,1584.3L1711.0,1583.6L1713.0,1582.9L1715.0,1582.1L1717.0,1581.3L1719.0,1580.5L1721.0,1579.8L1723.0,1579.2L1725.0,1578.8L1727.0,1578.3L1729.0,1577.9L1731.0,1577.5L1733.0,1577.1L1735.0,1576.8L1737.0,1576.5L1739.0,1576.3L1741.0,1576.2L1743.0,1576.1L1745.0,1576.1L1747.0,1576.1L1749.0,1576.1L1751.0,1576.1L1753.0,1576.1L1755.0,1576.1L1757.0,1576.1L1759.0,1576.2L1761.0,1576.3L1763.0,1576.4L1765.0,1576.5L1767.0,1576.6L1769.0,1576.7L1771.0,1576.9L1773.0,1577.0L1775.0,1577.2L1777.0,1577.5L1779.0,1577.7L1781.0,1577.9L1783.0,1578.2L1785.0,1578.5L1787.0,1578.7L1789.0,1579.0L1791.0,1579.2L1793.0,1579.4L1795.0,1579.6L1797.0,1579.8L1799.0,1579.9L1801.0,1580.1L1803.0,1580.2L1805.0,1580.3L1807.0,1580.4L1809.0,1580.5L1811.0,1580.5L1813.0,1580.6L1815.0,1580.7L1817.0,1580.8L1819.0,1580.9L1821.0,1580.9L1823.0,1581.0L1825.0,1581.1L1827.0,1581.1L1829.0,1581.2L1831.0,1581.3L1833.0,1581.3L1835.0,1581.4L1837.0,1581.5L1839.0,1581.6L1841.0,1581.6L1843.0,1581.7L1845.0,1581.8L1847.0,1581.9L1849.0,1582.0L1851.0,1582.1L1853.0,1582.2L1855.0,1582.3L1857.0,1582.3L1859.0,1582.4L1861.0,1582.5L1863.0,1582.6L1865.0,1582.7L1867.0,1582.8L1869.0,1582.9L1871.0,1583.0L1873.0,1583.1L1875.0,1583.2L1877.0,1583.2L1879.0,1583.3L1881.0,1583.4L1883.0,1583.5L1885.0,1583.6L1887.0,1583.7L1889.0,1583.8L1891.0,1583.9L1893.0,1584.0L1895.0,1584.1L1897.0,1584.2L1899.0,1584.3L1901.0,1584.4L1903.0,1584.5L1905.0,1584.7L1907.0,1584.8L1909.0,1584.9L1911.0,1585.0L1913.0,1585.1L1915.0,1585.2L1917.0,1585.4L1919.0,1585.5L1921.0,1585.6L1923.0,1585.8L1925.0,1585.9L1927.0,1586.1L1929.0,1586.2L1931.0,1586.4L1933.0,1586.5L1935.0,1586.7L1937.0,1586.9L1939.0,1587.0L1941.0,1587.2L1943.0,1587.4L1945.0,1587.6L1947.0,1587.7L1949.0,1587.9L1951.0,1588.1L1953.0,1588.3L1955.0,1588.5L1957.0,1588.6L1959.0,1588.8L1961.0,1589.0L1963.0,1589.2L1965.0,1589.4L1967.0,1589.5L1969.0,1589.7L1971.0,1589.9L1973.0,1590.1L1975.0,1590.2L1977.0,1590.4L1979.0,1590.6L1981.0,1590.7L1983.0,1590.9L1985.0,1591.0L1987.0,1591.2L1989.0,1591.3L1991.0,1591.5L1993.0,1591.6L1995.0,1591.8L1997.0,1591.9L1999.0,1592.1L2001.0,1592.2L2003.0,1592.4L2005.0,1592.5L2007.0,1592.7L2009.0,1592.8L2011.0,1593.0L2013.0,1593.1L2015.0,1593.3L2017.0,1593.4L2019.0,1593.6L2021.0,1593.7L2023.0,1593.9L2025.0,1594.0L2027.0,1594.1L2029.0,1594.3L2031.0,1594.4L2033.0,1594.5L2035.0,1594.7L2037.0,1594.8L2039.0,1594.9L2041.0,1595.0L2043.0,1595.2L2045.0,1595.3L2047.0,1595.4L2049.0,1595.5L2051.0,1595.6L2053.0,1595.7L2055.0,1595.8L2057.0,1595.9L2059.0,1596.1L2061.0,1596.2L2063.0,1596.3L2065.0,1596.4L2067.0,1596.5L2069.0,1596.6L2071.0,1596.6L2073.0,1596.7L2075.0,1596.8L2077.0,1596.9L2079.0,1597.0L2081.0,1597.1L2083.0,1597.2L2085.0,1597.3L2087.0,1597.4L2089.0,1597.5L2091.0,1597.6L2093.0,1597.7L2095.0,1597.8L2097.0,1597.9L2099.0,1598.0L2101.0,1598.1L2103.0,1598.1L2105.0,1598.2L2107.0,1598.3L2109.0,1598.4L2111.0,1598.5L2113.0,1598.5L2115.0,1598.6L2117.0,1598.7L2119.0,1598.8L2121.0,1598.8L2123.0,1598.9L2125.0,1599.0L2127.0,1599.0L2129.0,1599.1L2131.0,1599.1L2133.0,1599.2L2135.0,1599.3L2137.0,1599.3L2139.0,1599.4L2141.0,1599.4L2143.0,1599.4L2145.0,1599.5L2145.7,1599.5" fill="none" stroke="#000000" stroke-width="11" stroke-linecap="round" stroke-linejoin="round"/>
<g stroke="#000" stroke-width="7" stroke-linecap="round" fill="none">
<line x1="861.0" y1="351.0" x2="861.0" y2="371.5"/>
<line x1="861.0" y1="401.4" x2="861.0" y2="421.9"/>
<line x1="861.0" y1="451.9" x2="861.0" y2="472.4"/>
<line x1="861.0" y1="502.3" x2="861.0" y2="522.8"/>
<line x1="861.0" y1="552.8" x2="861.0" y2="573.3"/>
<line x1="861.0" y1="603.2" x2="861.0" y2="623.8"/>
<line x1="861.0" y1="653.7" x2="861.0" y2="674.2"/>
<line x1="861.0" y1="704.2" x2="861.0" y2="724.7"/>
<line x1="861.0" y1="754.6" x2="861.0" y2="775.1"/>
<line x1="861.0" y1="805.1" x2="861.0" y2="825.6"/>
<line x1="861.0" y1="855.5" x2="861.0" y2="876.0"/>
<line x1="861.0" y1="906.0" x2="861.0" y2="926.5"/>
<line x1="861.0" y1="956.4" x2="861.0" y2="976.9"/>
<line x1="861.0" y1="1006.9" x2="861.0" y2="1027.4"/>
<line x1="861.0" y1="1057.3" x2="861.0" y2="1077.8"/>
<line x1="861.0" y1="1107.8" x2="861.0" y2="1128.3"/>
<line x1="861.0" y1="1158.2" x2="861.0" y2="1178.7"/>
<line x1="861.0" y1="1208.7" x2="861.0" y2="1229.2"/>
<line x1="861.0" y1="1259.1" x2="861.0" y2="1279.6"/>
<line x1="861.0" y1="1309.6" x2="861.0" y2="1330.1"/>
<line x1="861.0" y1="1360.0" x2="861.0" y2="1380.5"/>
<line x1="861.0" y1="1410.5" x2="861.0" y2="1431.0"/>
<line x1="861.0" y1="1460.9" x2="861.0" y2="1481.4"/>
<line x1="861.0" y1="1511.4" x2="861.0" y2="1531.9"/>
<line x1="861.0" y1="1561.8" x2="861.0" y2="1582.3"/>
<line x1="861.0" y1="1612.3" x2="861.0" y2="1632.8"/>
<line x1="861.0" y1="1662.7" x2="861.0" y2="1682.5"/>
<line x1="1456.6" y1="258.0" x2="1456.6" y2="278.5"/>
<line x1="1456.6" y1="308.4" x2="1456.6" y2="328.9"/>
<line x1="1456.7" y1="358.9" x2="1456.7" y2="379.4"/>
<line x1="1456.7" y1="409.3" x2="1456.7" y2="429.8"/>
<line x1="1456.8" y1="459.8" x2="1456.8" y2="480.3"/>
<line x1="1456.8" y1="510.2" x2="1456.8" y2="530.8"/>
<line x1="1456.9" y1="560.7" x2="1456.9" y2="581.2"/>
<line x1="1456.9" y1="611.1" x2="1456.9" y2="631.6"/>
<line x1="1457.0" y1="661.6" x2="1457.0" y2="682.1"/>
<line x1="1457.0" y1="712.1" x2="1457.0" y2="732.6"/>
<line x1="1457.1" y1="762.5" x2="1457.1" y2="783.0"/>
<line x1="1457.1" y1="813.0" x2="1457.1" y2="833.5"/>
<line x1="1457.2" y1="863.4" x2="1457.2" y2="883.9"/>
<line x1="1457.2" y1="913.9" x2="1457.2" y2="934.4"/>
<line x1="1457.3" y1="964.3" x2="1457.3" y2="984.8"/>
<line x1="1457.3" y1="1014.8" x2="1457.3" y2="1035.3"/>
<line x1="1457.4" y1="1065.2" x2="1457.4" y2="1085.7"/>
<line x1="1457.4" y1="1115.7" x2="1457.4" y2="1136.2"/>
<line x1="1457.5" y1="1166.1" x2="1457.5" y2="1186.6"/>
<line x1="1457.5" y1="1216.6" x2="1457.5" y2="1237.1"/>
<line x1="1457.6" y1="1267.0" x2="1457.6" y2="1287.5"/>
<line x1="1457.6" y1="1317.5" x2="1457.6" y2="1338.0"/>
<line x1="1457.7" y1="1367.9" x2="1457.7" y2="1388.4"/>
<line x1="1457.7" y1="1418.4" x2="1457.8" y2="1438.9"/>
<line x1="1457.8" y1="1468.8" x2="1457.8" y2="1489.3"/>
<line x1="1457.8" y1="1519.3" x2="1457.9" y2="1539.8"/>
<line x1="1457.9" y1="1569.7" x2="1457.9" y2="1590.2"/>
<line x1="1457.9" y1="1620.2" x2="1458.0" y2="1640.7"/>
<line x1="1458.0" y1="1670.6" x2="1458.0" y2="1682.5"/>
<line x1="1686.5" y1="364.0" x2="1686.5" y2="384.5"/>
<line x1="1686.5" y1="414.4" x2="1686.5" y2="434.9"/>
<line x1="1686.5" y1="464.7" x2="1686.5" y2="485.2"/>
<line x1="1686.5" y1="515.1" x2="1686.5" y2="535.6"/>
<line x1="1686.5" y1="565.5" x2="1686.5" y2="586.0"/>
<line x1="1686.5" y1="615.9" x2="1686.5" y2="636.4"/>
<line x1="1686.5" y1="666.2" x2="1686.5" y2="686.7"/>
<line x1="1686.5" y1="716.6" x2="1686.5" y2="737.1"/>
<line x1="1686.5" y1="767.0" x2="1686.5" y2="787.5"/>
<line x1="1686.5" y1="817.3" x2="1686.5" y2="837.8"/>
<line x1="1686.5" y1="867.7" x2="1686.5" y2="888.2"/>
<line x1="1686.5" y1="918.1" x2="1686.5" y2="938.6"/>
<line x1="1686.5" y1="968.4" x2="1686.5" y2="988.9"/>
<line x1="1686.5" y1="1018.8" x2="1686.5" y2="1039.3"/>
<line x1="1686.5" y1="1069.2" x2="1686.5" y2="1089.7"/>
<line x1="1686.5" y1="1119.5" x2="1686.5" y2="1140.0"/>
<line x1="1686.5" y1="1169.9" x2="1686.5" y2="1190.4"/>
<line x1="1686.5" y1="1220.3" x2="1686.5" y2="1240.8"/>
<line x1="1686.5" y1="1270.7" x2="1686.5" y2="1291.2"/>
<line x1="1686.5" y1="1321.0" x2="1686.5" y2="1341.5"/>
<line x1="1686.5" y1="1371.4" x2="1686.5" y2="1391.9"/>
<line x1="1686.5" y1="1421.8" x2="1686.5" y2="1442.3"/>
<line x1="1686.5" y1="1472.1" x2="1686.5" y2="1492.6"/>
<line x1="1686.5" y1="1522.5" x2="1686.5" y2="1543.0"/>
<line x1="1686.5" y1="1572.9" x2="1686.5" y2="1593.4"/>
<line x1="1686.5" y1="1623.2" x2="1686.5" y2="1643.7"/>
<line x1="1686.5" y1="1673.6" x2="1686.5" y2="1682.5"/>
</g>
<path d="M861.0,279 L873.0,323 L849.0,323 Z" fill="#000"/>
<path d="M1456.5,195 L1468.5,238.5 L1444.5,238.5 Z" fill="#000"/>
<path d="M1686.5,313 L1698.5,356 L1674.5,356 Z" fill="#000"/>
<line x1="175.5" y1="48.5" x2="175.5" y2="242" stroke="#000" stroke-width="7.5"/>
<path d="M175.8,283 L189.5,236 L176,239 L162,236 Z" fill="#000"/>
<rect x="147.8" y="21.5" width="2019.8" height="1669.3" fill="none" stroke="#000" stroke-width="8.5"/>
<g stroke="#000" stroke-width="7" stroke-linecap="round"><line x1="287.9" y1="1690.8" x2="287.9" y2="1715"/><line x1="522.4" y1="1690.8" x2="522.4" y2="1702.5"/><line x1="756.9" y1="1690.8" x2="756.9" y2="1715"/><line x1="991.4" y1="1690.8" x2="991.4" y2="1702.5"/><line x1="1225.9" y1="1690.8" x2="1225.9" y2="1715"/><line x1="1460.4" y1="1690.8" x2="1460.4" y2="1702.5"/><line x1="1694.9" y1="1690.8" x2="1694.9" y2="1715"/><line x1="1929.4" y1="1690.8" x2="1929.4" y2="1702.5"/><line x1="2167.6" y1="1690.8" x2="2167.6" y2="1715"/></g>
<text transform="translate(287.9,1791.3) scale(1,1.04)" font-family="Liberation Sans, Arial, sans-serif" font-weight="bold" font-size="65" text-anchor="middle">0</text>
<text transform="translate(756.9,1791.3) scale(1,1.04)" font-family="Liberation Sans, Arial, sans-serif" font-weight="bold" font-size="65" text-anchor="middle">50</text>
<text transform="translate(1225.9,1791.3) scale(1,1.04)" font-family="Liberation Sans, Arial, sans-serif" font-weight="bold" font-size="65" text-anchor="middle">100</text>
<text transform="translate(1694.9,1791.3) scale(1,1.04)" font-family="Liberation Sans, Arial, sans-serif" font-weight="bold" font-size="65" text-anchor="middle">150</text>
<text transform="translate(2167.6,1791.3) scale(1,1.04)" font-family="Liberation Sans, Arial, sans-serif" font-weight="bold" font-size="65" text-anchor="middle">200</text>
<text transform="translate(865,1919) scale(1,1.04)" font-family="Liberation Sans, Arial, sans-serif" font-weight="bold" font-size="72.3">Temperature (<tspan x="478" font-size="55" font-weight="normal" dy="-27">o</tspan><tspan x="509.5" dy="27">C)</tspan></text>
<text transform="translate(74,831.4) rotate(-90) scale(1,1.04)" font-family="Liberation Sans, Arial, sans-serif" font-weight="bold" font-size="73" text-anchor="middle">Heat flow (a.u.)</text>
<text transform="translate(201,177) scale(1,1.04)" font-family="Liberation Sans, Arial, sans-serif" font-weight="bold" font-size="73">Endo</text>
<text transform="translate(797.5,202.7) scale(0.99,1.04)" font-family="Liberation Sans, Arial, sans-serif" font-weight="bold" font-size="79">T<tspan font-size="55" dy="20.7">g</tspan></text>
<text transform="translate(1421.5,152.3) scale(0.99,1.04)" font-family="Liberation Sans, Arial, sans-serif" font-weight="bold" font-size="79">T<tspan font-size="55" dy="21.3">cc</tspan></text>
<text transform="translate(1638.5,272.2) scale(0.99,1.04)" font-family="Liberation Sans, Arial, sans-serif" font-weight="bold" font-size="79">T<tspan font-size="55" dy="20.4">m</tspan></text>
<text transform="translate(1769.2,450.5) scale(1,1.04)" font-family="Liberation Sans, Arial, sans-serif" font-weight="bold" font-size="57.2">PLA/15APHH3</text>
<text transform="translate(1763.3,797.5) scale(1,1.04)" font-family="Liberation Sans, Arial, sans-serif" font-weight="bold" font-size="57.2">PLA/15APHH1</text>
<text transform="translate(1801.2,1000.5) scale(1,1.04)" font-family="Liberation Sans, Arial, sans-serif" font-weight="bold" font-size="57.2">PLA/15AHH3</text>
<text transform="translate(1803.6,1281) scale(1,1.04)" font-family="Liberation Sans, Arial, sans-serif" font-weight="bold" font-size="57.2">PLA/15AHH1</text>
<text transform="translate(1929.2,1566) scale(1,1.04)" font-family="Liberation Sans, Arial, sans-serif" font-weight="bold" font-size="57.2">PLA</text>
</svg>
</body></html>
